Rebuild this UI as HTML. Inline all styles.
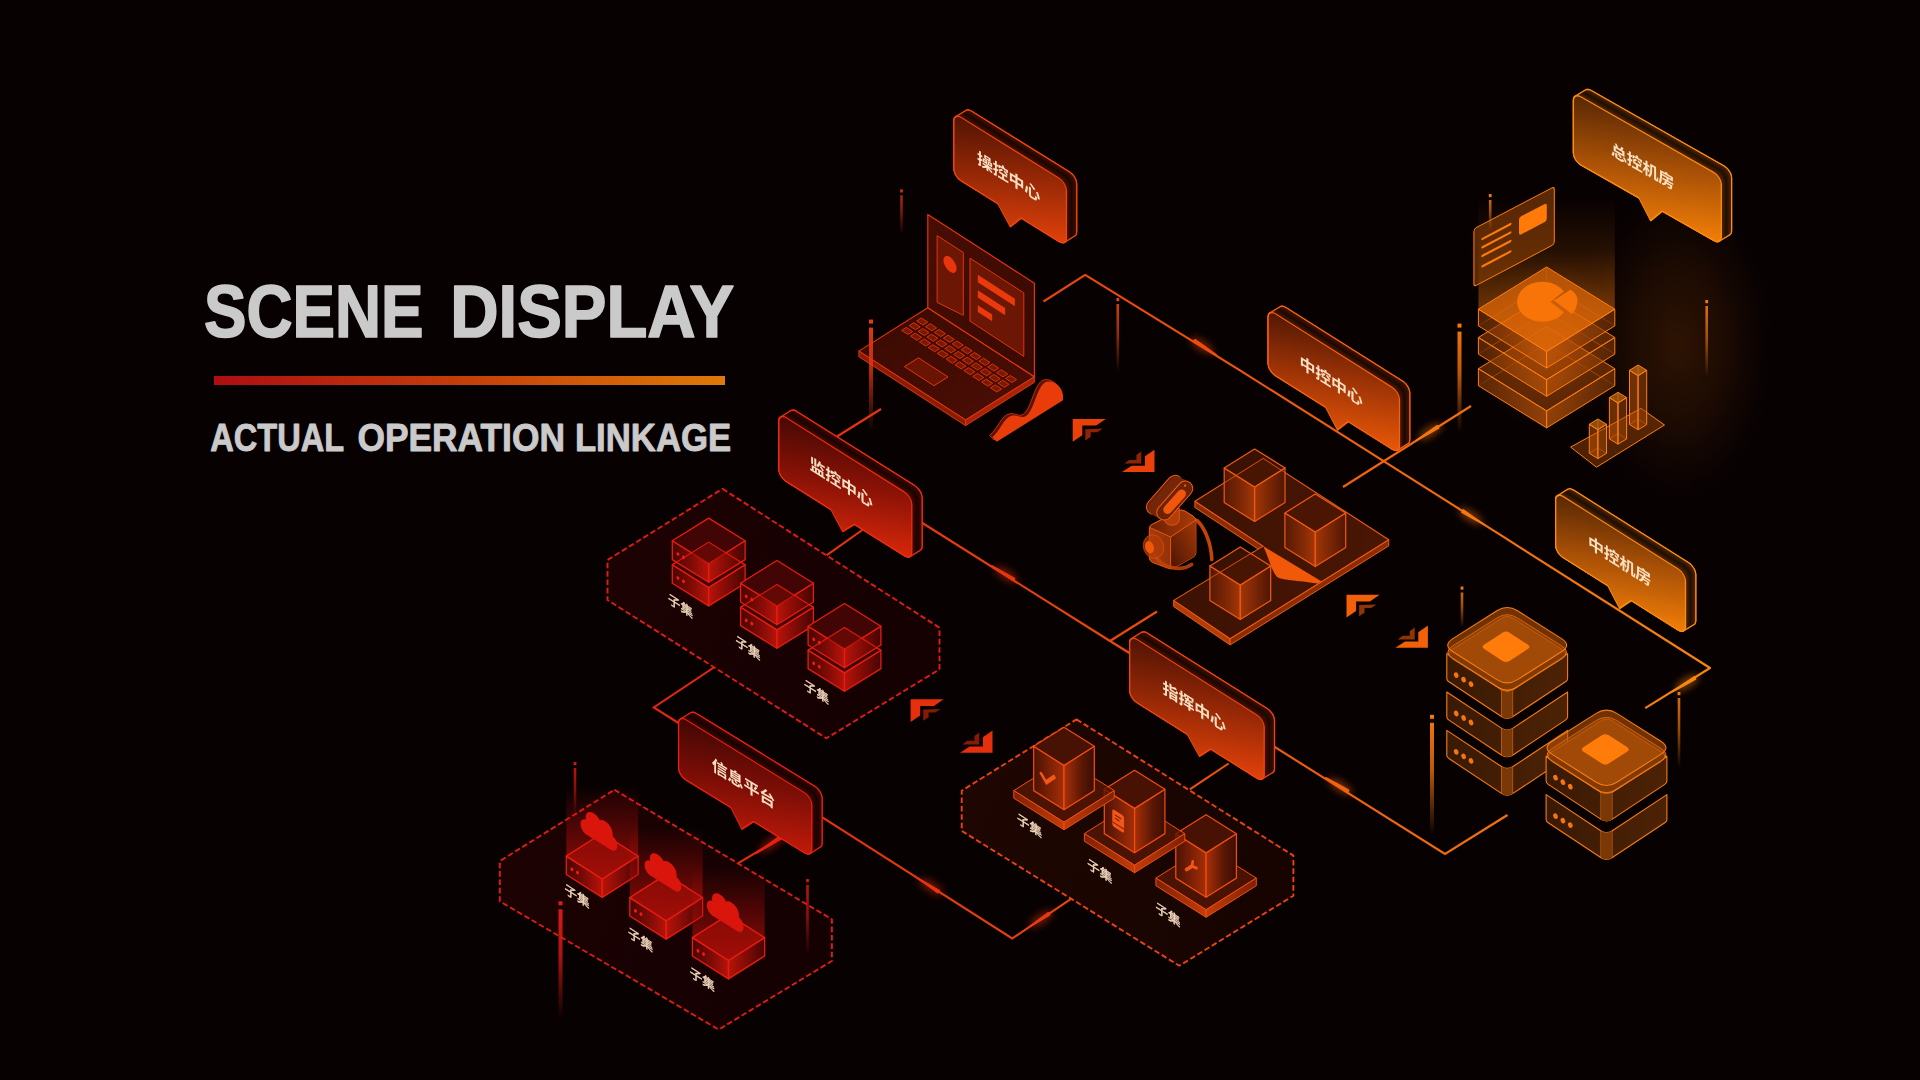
<!DOCTYPE html>
<html lang="zh"><head><meta charset="utf-8"><title>SCENE DISPLAY</title>
<style>html,body{margin:0;padding:0;background:#070102;overflow:hidden}svg{display:block}</style></head>
<body>
<svg width="1920" height="1080" viewBox="0 0 1920 1080">
<defs>
<radialGradient id="g1" cx="0.5" cy="0.5" r="0.5"><stop offset="0" stop-color="#301403" stop-opacity="0.95"/><stop offset="0.45" stop-color="#2a1103" stop-opacity="0.62"/><stop offset="0.75" stop-color="#200c02" stop-opacity="0.25"/><stop offset="1" stop-color="#070102" stop-opacity="0"/></radialGradient>
<linearGradient id="g2" x1="640" y1="0" x2="1720" y2="0" gradientUnits="userSpaceOnUse"><stop offset="0" stop-color="#e02410"/><stop offset="0.35" stop-color="#e8400c"/><stop offset="0.7" stop-color="#f2660c"/><stop offset="1" stop-color="#f8860e"/></linearGradient>
<linearGradient id="g3" x1="0" y1="0" x2="1" y2="0.3"><stop offset="0" stop-color="#1d0203"/><stop offset="1" stop-color="#150102"/></linearGradient>
<linearGradient id="g4" x1="0" y1="0" x2="1" y2="0"><stop offset="0" stop-color="#4a0604"/><stop offset="0.55" stop-color="#8a0c07"/><stop offset="1" stop-color="#c4150b"/></linearGradient>
<linearGradient id="g5" x1="0" y1="0" x2="1" y2="0"><stop offset="0" stop-color="#c4150b"/><stop offset="0.5" stop-color="#8a0c07"/><stop offset="1" stop-color="#4a0604"/></linearGradient>
<linearGradient id="g6" x1="0" y1="0" x2="1" y2="0"><stop offset="0" stop-color="#4a0604"/><stop offset="0.55" stop-color="#8a0c07"/><stop offset="1" stop-color="#c4150b"/></linearGradient>
<linearGradient id="g7" x1="0" y1="0" x2="1" y2="0"><stop offset="0" stop-color="#c4150b"/><stop offset="0.5" stop-color="#8a0c07"/><stop offset="1" stop-color="#4a0604"/></linearGradient>
<linearGradient id="g8" x1="0" y1="0" x2="1" y2="0"><stop offset="0" stop-color="#4a0604"/><stop offset="0.55" stop-color="#8a0c07"/><stop offset="1" stop-color="#c4150b"/></linearGradient>
<linearGradient id="g9" x1="0" y1="0" x2="1" y2="0"><stop offset="0" stop-color="#c4150b"/><stop offset="0.5" stop-color="#8a0c07"/><stop offset="1" stop-color="#4a0604"/></linearGradient>
<linearGradient id="g10" x1="0" y1="0" x2="1" y2="0"><stop offset="0" stop-color="#4a0604"/><stop offset="0.55" stop-color="#8a0c07"/><stop offset="1" stop-color="#c4150b"/></linearGradient>
<linearGradient id="g11" x1="0" y1="0" x2="1" y2="0"><stop offset="0" stop-color="#c4150b"/><stop offset="0.5" stop-color="#8a0c07"/><stop offset="1" stop-color="#4a0604"/></linearGradient>
<linearGradient id="g12" x1="0" y1="0" x2="1" y2="0"><stop offset="0" stop-color="#4a0604"/><stop offset="0.55" stop-color="#8a0c07"/><stop offset="1" stop-color="#c4150b"/></linearGradient>
<linearGradient id="g13" x1="0" y1="0" x2="1" y2="0"><stop offset="0" stop-color="#c4150b"/><stop offset="0.5" stop-color="#8a0c07"/><stop offset="1" stop-color="#4a0604"/></linearGradient>
<linearGradient id="g14" x1="0" y1="0" x2="1" y2="0"><stop offset="0" stop-color="#4a0604"/><stop offset="0.55" stop-color="#8a0c07"/><stop offset="1" stop-color="#c4150b"/></linearGradient>
<linearGradient id="g15" x1="0" y1="0" x2="1" y2="0"><stop offset="0" stop-color="#c4150b"/><stop offset="0.5" stop-color="#8a0c07"/><stop offset="1" stop-color="#4a0604"/></linearGradient>
<linearGradient id="g16" x1="0" y1="0" x2="1" y2="0.3"><stop offset="0" stop-color="#1d0203"/><stop offset="1" stop-color="#150102"/></linearGradient>
<linearGradient id="g17" x1="0" y1="0" x2="0" y2="1"><stop offset="0" stop-color="#b80e09" stop-opacity="0"/><stop offset="0.4" stop-color="#b80e09" stop-opacity="0.3"/><stop offset="1" stop-color="#c8120a" stop-opacity="0.72"/></linearGradient>
<linearGradient id="g18" x1="0" y1="0" x2="1" y2="0"><stop offset="0" stop-color="#4a0604"/><stop offset="0.55" stop-color="#8a0c07"/><stop offset="1" stop-color="#c4150b"/></linearGradient>
<linearGradient id="g19" x1="0" y1="0" x2="1" y2="0"><stop offset="0" stop-color="#c4150b"/><stop offset="0.5" stop-color="#8a0c07"/><stop offset="1" stop-color="#4a0604"/></linearGradient>
<linearGradient id="g20" x1="0" y1="0" x2="0" y2="1"><stop offset="0" stop-color="#b80e09" stop-opacity="0"/><stop offset="0.4" stop-color="#b80e09" stop-opacity="0.3"/><stop offset="1" stop-color="#c8120a" stop-opacity="0.72"/></linearGradient>
<linearGradient id="g21" x1="0" y1="0" x2="1" y2="0"><stop offset="0" stop-color="#4a0604"/><stop offset="0.55" stop-color="#8a0c07"/><stop offset="1" stop-color="#c4150b"/></linearGradient>
<linearGradient id="g22" x1="0" y1="0" x2="1" y2="0"><stop offset="0" stop-color="#c4150b"/><stop offset="0.5" stop-color="#8a0c07"/><stop offset="1" stop-color="#4a0604"/></linearGradient>
<linearGradient id="g23" x1="0" y1="0" x2="0" y2="1"><stop offset="0" stop-color="#b80e09" stop-opacity="0"/><stop offset="0.4" stop-color="#b80e09" stop-opacity="0.3"/><stop offset="1" stop-color="#c8120a" stop-opacity="0.72"/></linearGradient>
<linearGradient id="g24" x1="0" y1="0" x2="1" y2="0"><stop offset="0" stop-color="#4a0604"/><stop offset="0.55" stop-color="#8a0c07"/><stop offset="1" stop-color="#c4150b"/></linearGradient>
<linearGradient id="g25" x1="0" y1="0" x2="1" y2="0"><stop offset="0" stop-color="#c4150b"/><stop offset="0.5" stop-color="#8a0c07"/><stop offset="1" stop-color="#4a0604"/></linearGradient>
<linearGradient id="g26" x1="0" y1="0" x2="1" y2="0.3"><stop offset="0" stop-color="#1f0702"/><stop offset="1" stop-color="#170401"/></linearGradient>
<linearGradient id="g27" x1="0" y1="0" x2="1" y2="0"><stop offset="0" stop-color="#7c2006"/><stop offset="1" stop-color="#c43c0a"/></linearGradient>
<linearGradient id="g28" x1="0" y1="0" x2="1" y2="0"><stop offset="0" stop-color="#c43c0a"/><stop offset="1" stop-color="#7c2006"/></linearGradient>
<linearGradient id="g29" x1="0" y1="0" x2="1" y2="0"><stop offset="0" stop-color="#4c1204"/><stop offset="1" stop-color="#a62e08"/></linearGradient>
<linearGradient id="g30" x1="0" y1="0" x2="1" y2="0"><stop offset="0" stop-color="#a83008"/><stop offset="0.6" stop-color="#5a1604"/><stop offset="1" stop-color="#3c0e03"/></linearGradient>
<linearGradient id="g31" x1="0" y1="0" x2="1" y2="0"><stop offset="0" stop-color="#7c2006"/><stop offset="1" stop-color="#c43c0a"/></linearGradient>
<linearGradient id="g32" x1="0" y1="0" x2="1" y2="0"><stop offset="0" stop-color="#c43c0a"/><stop offset="1" stop-color="#7c2006"/></linearGradient>
<linearGradient id="g33" x1="0" y1="0" x2="1" y2="0"><stop offset="0" stop-color="#4c1204"/><stop offset="1" stop-color="#a62e08"/></linearGradient>
<linearGradient id="g34" x1="0" y1="0" x2="1" y2="0"><stop offset="0" stop-color="#a83008"/><stop offset="0.6" stop-color="#5a1604"/><stop offset="1" stop-color="#3c0e03"/></linearGradient>
<linearGradient id="g35" x1="0" y1="0" x2="1" y2="0"><stop offset="0" stop-color="#7c2006"/><stop offset="1" stop-color="#c43c0a"/></linearGradient>
<linearGradient id="g36" x1="0" y1="0" x2="1" y2="0"><stop offset="0" stop-color="#c43c0a"/><stop offset="1" stop-color="#7c2006"/></linearGradient>
<linearGradient id="g37" x1="0" y1="0" x2="1" y2="0"><stop offset="0" stop-color="#4c1204"/><stop offset="1" stop-color="#a62e08"/></linearGradient>
<linearGradient id="g38" x1="0" y1="0" x2="1" y2="0"><stop offset="0" stop-color="#a83008"/><stop offset="0.6" stop-color="#5a1604"/><stop offset="1" stop-color="#3c0e03"/></linearGradient>
<linearGradient id="g39" x1="0" y1="0" x2="1" y2="1"><stop offset="0" stop-color="#3a0a03"/><stop offset="1" stop-color="#4c0e04"/></linearGradient>
<linearGradient id="g40" x1="0" y1="0" x2="1" y2="1"><stop offset="0" stop-color="#4a0e04"/><stop offset="1" stop-color="#3a0a03"/></linearGradient>
<linearGradient id="g41" x1="0" y1="0" x2="1" y2="0"><stop offset="0" stop-color="#3c1203"/><stop offset="1" stop-color="#4a1604"/></linearGradient>
<linearGradient id="g42" x1="0" y1="0" x2="1" y2="0"><stop offset="0" stop-color="#5a1a04"/><stop offset="0.6" stop-color="#8a2c06"/><stop offset="1" stop-color="#b23c08"/></linearGradient>
<linearGradient id="g43" x1="0" y1="0" x2="1" y2="0"><stop offset="0" stop-color="#b03a08"/><stop offset="0.5" stop-color="#802806"/><stop offset="1" stop-color="#521604"/></linearGradient>
<linearGradient id="g44" x1="0" y1="0" x2="1" y2="0"><stop offset="0" stop-color="#5a1a04"/><stop offset="0.6" stop-color="#8a2c06"/><stop offset="1" stop-color="#b23c08"/></linearGradient>
<linearGradient id="g45" x1="0" y1="0" x2="1" y2="0"><stop offset="0" stop-color="#b03a08"/><stop offset="0.5" stop-color="#802806"/><stop offset="1" stop-color="#521604"/></linearGradient>
<linearGradient id="g46" x1="0" y1="0" x2="1" y2="0"><stop offset="0" stop-color="#5a1a04"/><stop offset="0.6" stop-color="#8a2c06"/><stop offset="1" stop-color="#b23c08"/></linearGradient>
<linearGradient id="g47" x1="0" y1="0" x2="1" y2="0"><stop offset="0" stop-color="#b03a08"/><stop offset="0.5" stop-color="#802806"/><stop offset="1" stop-color="#521604"/></linearGradient>
<linearGradient id="g48" x1="0" y1="0" x2="1" y2="0"><stop offset="0" stop-color="#a83a09"/><stop offset="1" stop-color="#7a2806"/></linearGradient>
<linearGradient id="g49" x1="0" y1="1" x2="1" y2="0"><stop offset="0" stop-color="#4c1404"/><stop offset="1" stop-color="#a23808"/></linearGradient>
<linearGradient id="g50" x1="0" y1="0" x2="1" y2="0"><stop offset="0" stop-color="#6a2005"/><stop offset="1" stop-color="#a83a08"/></linearGradient>
<radialGradient id="g51" cx="0.5" cy="0.5" r="0.5"><stop offset="0" stop-color="#ff7a08" stop-opacity="0.38"/><stop offset="0.6" stop-color="#c85008" stop-opacity="0.12"/><stop offset="1" stop-color="#c85008" stop-opacity="0"/></radialGradient>
<linearGradient id="g52" x1="0" y1="0" x2="0" y2="1"><stop offset="0" stop-color="#ff7a08" stop-opacity="0"/><stop offset="0.35" stop-color="#ff7a08" stop-opacity="0.12"/><stop offset="1" stop-color="#ff7e08" stop-opacity="0.62"/></linearGradient>
<linearGradient id="g53" x1="0" y1="0" x2="1" y2="0"><stop offset="0" stop-color="#7a3406"/><stop offset="1" stop-color="#c85a0a"/></linearGradient>
<linearGradient id="g54" x1="0" y1="0" x2="1" y2="0"><stop offset="0" stop-color="#c85a0a"/><stop offset="1" stop-color="#7a3406"/></linearGradient>
<linearGradient id="g55" x1="0" y1="0" x2="1" y2="0"><stop offset="0" stop-color="#7a3406"/><stop offset="1" stop-color="#c85a0a"/></linearGradient>
<linearGradient id="g56" x1="0" y1="0" x2="1" y2="0"><stop offset="0" stop-color="#c85a0a"/><stop offset="1" stop-color="#7a3406"/></linearGradient>
<linearGradient id="g57" x1="0" y1="0" x2="1" y2="0"><stop offset="0" stop-color="#7a3406"/><stop offset="1" stop-color="#c85a0a"/></linearGradient>
<linearGradient id="g58" x1="0" y1="0" x2="1" y2="0"><stop offset="0" stop-color="#c85a0a"/><stop offset="1" stop-color="#7a3406"/></linearGradient>
<linearGradient id="g59" x1="0" y1="0" x2="1" y2="0"><stop offset="0" stop-color="#3a1a04"/><stop offset="1" stop-color="#4c2205"/></linearGradient>
<linearGradient id="g60" x1="0" y1="0" x2="1" y2="0"><stop offset="0" stop-color="#3a1a04"/><stop offset="1" stop-color="#4c2205"/></linearGradient>
<linearGradient id="g61" x1="0" y1="0" x2="1" y2="0"><stop offset="0" stop-color="#3a1a04"/><stop offset="1" stop-color="#4c2205"/></linearGradient>
<linearGradient id="g62" x1="0" y1="0" x2="1" y2="0"><stop offset="0" stop-color="#3a1a04"/><stop offset="1" stop-color="#4c2205"/></linearGradient>
<linearGradient id="g63" x1="0" y1="0" x2="1" y2="0"><stop offset="0" stop-color="#3a1a04"/><stop offset="1" stop-color="#4c2205"/></linearGradient>
<linearGradient id="g64" x1="901.5" y1="189.3" x2="901.5" y2="234" gradientUnits="userSpaceOnUse"><stop offset="0" stop-color="#c42c0c" stop-opacity="0.95"/><stop offset="0.5" stop-color="#c42c0c" stop-opacity="0.62"/><stop offset="1" stop-color="#c42c0c" stop-opacity="0"/></linearGradient>
<linearGradient id="g65" x1="1117.8" y1="298" x2="1117.8" y2="372" gradientUnits="userSpaceOnUse"><stop offset="0" stop-color="#e04810" stop-opacity="0.95"/><stop offset="0.5" stop-color="#e04810" stop-opacity="0.62"/><stop offset="1" stop-color="#e04810" stop-opacity="0"/></linearGradient>
<linearGradient id="g66" x1="1490.2" y1="194" x2="1490.2" y2="230" gradientUnits="userSpaceOnUse"><stop offset="0" stop-color="#f07810" stop-opacity="0.95"/><stop offset="0.5" stop-color="#f07810" stop-opacity="0.62"/><stop offset="1" stop-color="#f07810" stop-opacity="0"/></linearGradient>
<linearGradient id="g67" x1="1706.7" y1="300" x2="1706.7" y2="377" gradientUnits="userSpaceOnUse"><stop offset="0" stop-color="#f07810" stop-opacity="0.95"/><stop offset="0.5" stop-color="#f07810" stop-opacity="0.62"/><stop offset="1" stop-color="#f07810" stop-opacity="0"/></linearGradient>
<linearGradient id="g68" x1="1462" y1="586.5" x2="1462" y2="628" gradientUnits="userSpaceOnUse"><stop offset="0" stop-color="#f07810" stop-opacity="0.95"/><stop offset="0.5" stop-color="#f07810" stop-opacity="0.62"/><stop offset="1" stop-color="#f07810" stop-opacity="0"/></linearGradient>
<linearGradient id="g69" x1="1679" y1="692" x2="1679" y2="768" gradientUnits="userSpaceOnUse"><stop offset="0" stop-color="#f07810" stop-opacity="0.95"/><stop offset="0.5" stop-color="#f07810" stop-opacity="0.62"/><stop offset="1" stop-color="#f07810" stop-opacity="0"/></linearGradient>
<linearGradient id="g70" x1="575" y1="762" x2="575" y2="815" gradientUnits="userSpaceOnUse"><stop offset="0" stop-color="#d01810" stop-opacity="0.95"/><stop offset="0.5" stop-color="#d01810" stop-opacity="0.62"/><stop offset="1" stop-color="#d01810" stop-opacity="0"/></linearGradient>
<linearGradient id="g71" x1="807.5" y1="879" x2="807.5" y2="955" gradientUnits="userSpaceOnUse"><stop offset="0" stop-color="#d01810" stop-opacity="0.95"/><stop offset="0.5" stop-color="#d01810" stop-opacity="0.62"/><stop offset="1" stop-color="#d01810" stop-opacity="0"/></linearGradient>
<linearGradient id="g72" x1="871" y1="319.6" x2="871" y2="432" gradientUnits="userSpaceOnUse"><stop offset="0" stop-color="#e83810"/><stop offset="0.45" stop-color="#e83810" stop-opacity="0.75"/><stop offset="1" stop-color="#e83810" stop-opacity="0"/></linearGradient>
<linearGradient id="g73" x1="1459.5" y1="323.6" x2="1459.5" y2="432" gradientUnits="userSpaceOnUse"><stop offset="0" stop-color="#f8780c"/><stop offset="0.45" stop-color="#f8780c" stop-opacity="0.75"/><stop offset="1" stop-color="#f8780c" stop-opacity="0"/></linearGradient>
<linearGradient id="g74" x1="1432" y1="714.8" x2="1432" y2="835" gradientUnits="userSpaceOnUse"><stop offset="0" stop-color="#f8780c"/><stop offset="0.45" stop-color="#f8780c" stop-opacity="0.75"/><stop offset="1" stop-color="#f8780c" stop-opacity="0"/></linearGradient>
<linearGradient id="g75" x1="560.5" y1="901.3" x2="560.5" y2="1020" gradientUnits="userSpaceOnUse"><stop offset="0" stop-color="#e01c14"/><stop offset="0.45" stop-color="#e01c14" stop-opacity="0.75"/><stop offset="1" stop-color="#e01c14" stop-opacity="0"/></linearGradient>
<linearGradient id="g76" x1="0.05" y1="0.0" x2="0.85" y2="1.0"><stop offset="0" stop-color="#521404"/><stop offset="0.45" stop-color="#962806"/><stop offset="1" stop-color="#ea440a"/></linearGradient>
<linearGradient id="g77" x1="0.05" y1="0.0" x2="0.85" y2="1.0"><stop offset="0" stop-color="#5a2804"/><stop offset="0.45" stop-color="#a85006"/><stop offset="1" stop-color="#fb8408"/></linearGradient>
<linearGradient id="g78" x1="0.05" y1="0.0" x2="0.85" y2="1.0"><stop offset="0" stop-color="#541804"/><stop offset="0.45" stop-color="#a03406"/><stop offset="1" stop-color="#f25c08"/></linearGradient>
<linearGradient id="g79" x1="0.05" y1="0.0" x2="0.85" y2="1.0"><stop offset="0" stop-color="#470904"/><stop offset="0.45" stop-color="#8a1206"/><stop offset="1" stop-color="#e02a0a"/></linearGradient>
<linearGradient id="g80" x1="0.05" y1="0.0" x2="0.85" y2="1.0"><stop offset="0" stop-color="#5a2804"/><stop offset="0.45" stop-color="#a85006"/><stop offset="1" stop-color="#fb8408"/></linearGradient>
<linearGradient id="g81" x1="0.05" y1="0.0" x2="0.85" y2="1.0"><stop offset="0" stop-color="#521404"/><stop offset="0.45" stop-color="#962806"/><stop offset="1" stop-color="#ea440a"/></linearGradient>
<linearGradient id="g82" x1="0.05" y1="0.0" x2="0.85" y2="1.0"><stop offset="0" stop-color="#430704"/><stop offset="0.45" stop-color="#7c0e06"/><stop offset="1" stop-color="#c81c0a"/></linearGradient>
<linearGradient id="g83" x1="0" y1="0" x2="1" y2="0"><stop offset="0" stop-color="#ae0e12"/><stop offset="0.5" stop-color="#c4400a"/><stop offset="1" stop-color="#de7a08"/></linearGradient>
<filter id="blur1" x="-50%" y="-200%" width="200%" height="500%"><feGaussianBlur stdDeviation="1.2"/></filter>
<filter id="blur3" x="-50%" y="-300%" width="200%" height="700%"><feGaussianBlur stdDeviation="3.5"/></filter>
<filter id="blur22" x="-60%" y="-40%" width="220%" height="180%"><feGaussianBlur stdDeviation="22"/></filter>
<filter id="blur8" x="-50%" y="-50%" width="200%" height="200%"><feGaussianBlur stdDeviation="8"/></filter>
</defs>
<rect width="1920" height="1080" fill="#070102"/>
<ellipse cx="1678" cy="345" rx="104" ry="172" fill="url(#g1)"/>
<polyline points="1043.5,301.5 1085.2,274.8 1240,370.4 1500,534.7 1710,668 1645.2,708.1" fill="none" stroke="url(#g2)" stroke-width="2.1" stroke-linejoin="round"/>
<polyline points="920,521.5 1110,641 1131,654" fill="none" stroke="url(#g2)" stroke-width="2.1" />
<polyline points="1110,641 1157,611.5" fill="none" stroke="url(#g2)" stroke-width="2.1" />
<polyline points="1270,744 1445,854 1507.5,815" fill="none" stroke="url(#g2)" stroke-width="2.1" />
<polyline points="881,409 837,436.5" fill="none" stroke="url(#g2)" stroke-width="2.1" />
<polyline points="862.3,530 826.5,555.3" fill="none" stroke="url(#g2)" stroke-width="2.1" />
<polyline points="713.8,667.5 653.8,707.5 680,724" fill="none" stroke="url(#g2)" stroke-width="2.1" />
<polyline points="820,815.8 1012.2,938.5 1071.8,898.3" fill="none" stroke="url(#g2)" stroke-width="2.1" />
<polyline points="780.3,837.8 737.5,863.7" fill="none" stroke="url(#g2)" stroke-width="2.1" />
<polyline points="1228.6,763.5 1189.8,789.4" fill="none" stroke="url(#g2)" stroke-width="2.1" />
<polyline points="1343,487 1471,406" fill="none" stroke="url(#g2)" stroke-width="2.1" />
<g transform="translate(1194,340.6) rotate(32.2)"><ellipse cx="9.7" cy="0" rx="14" ry="5.2" fill="#f04c0c" opacity="0.42" filter="url(#blur3)"/><path d="M0,-2.1 Q-1.6,0 0,2.1 L12.2,1.5 L27,0.6 L27,-0.6 L12.2,-1.5 Z" fill="#f04c0c"/></g>
<g transform="translate(1462.3,510.9) rotate(32.2)"><ellipse cx="9.7" cy="0" rx="14" ry="5.2" fill="#f6780e" opacity="0.42" filter="url(#blur3)"/><path d="M0,-2.1 Q-1.6,0 0,2.1 L12.2,1.5 L27,0.6 L27,-0.6 L12.2,-1.5 Z" fill="#f6780e"/></g>
<g transform="translate(1438.3,426.6) rotate(147.7)"><ellipse cx="9.7" cy="0" rx="14" ry="5.2" fill="#f6760e" opacity="0.42" filter="url(#blur3)"/><path d="M0,-2.1 Q-1.6,0 0,2.1 L12.2,1.5 L27,0.6 L27,-0.6 L12.2,-1.5 Z" fill="#f6760e"/></g>
<g transform="translate(1695.2,677.8) rotate(148.2)"><ellipse cx="9.7" cy="0" rx="14" ry="5.2" fill="#fb860e" opacity="0.42" filter="url(#blur3)"/><path d="M0,-2.1 Q-1.6,0 0,2.1 L12.2,1.5 L27,0.6 L27,-0.6 L12.2,-1.5 Z" fill="#fb860e"/></g>
<g transform="translate(939,891.9) rotate(-147.5)"><ellipse cx="9.7" cy="0" rx="14" ry="5.2" fill="#e8340f" opacity="0.42" filter="url(#blur3)"/><path d="M0,-2.1 Q-1.6,0 0,2.1 L12.2,1.5 L27,0.6 L27,-0.6 L12.2,-1.5 Z" fill="#e8340f"/></g>
<g transform="translate(1049.4,913.6) rotate(146.6)"><ellipse cx="9.7" cy="0" rx="14" ry="5.2" fill="#ea3a0f" opacity="0.42" filter="url(#blur3)"/><path d="M0,-2.1 Q-1.6,0 0,2.1 L12.2,1.5 L27,0.6 L27,-0.6 L12.2,-1.5 Z" fill="#ea3a0f"/></g>
<g transform="translate(781,837.2) rotate(146.8)"><ellipse cx="10.8" cy="0" rx="15.6" ry="5.2" fill="#e6220f" opacity="0.42" filter="url(#blur3)"/><path d="M0,-2.2 Q-1.6,0 0,2.2 L13.5,1.6 L30,0.6 L30,-0.6 L13.5,-1.6 Z" fill="#e6220f"/></g>
<g transform="translate(1014.2,579.8) rotate(-147.7)"><ellipse cx="9.7" cy="0" rx="14" ry="5.2" fill="#e8340f" opacity="0.42" filter="url(#blur3)"/><path d="M0,-2.1 Q-1.6,0 0,2.1 L12.2,1.5 L27,0.6 L27,-0.6 L12.2,-1.5 Z" fill="#e8340f"/></g>
<g transform="translate(1348.3,791.6) rotate(-147.7)"><ellipse cx="9.7" cy="0" rx="14" ry="5.2" fill="#f2640c" opacity="0.42" filter="url(#blur3)"/><path d="M0,-2.1 Q-1.6,0 0,2.1 L12.2,1.5 L27,0.6 L27,-0.6 L12.2,-1.5 Z" fill="#f2640c"/></g>
<polygon points="722.5,488.8 939.5,627.7 939.5,669.3 826.4,738.3 607.5,600 607.5,560" fill="url(#g3)" stroke="#e01c14" stroke-width="1.9" stroke-dasharray="5.6 2.8" stroke-linejoin="round"/>
<polygon points="672.3,564.8 708.7,587.5 708.7,605.9 672.3,583.2" fill="url(#g4)" stroke="#e81c10" stroke-width="1.3" fill-opacity="0.92" stroke-linejoin="round"/>
<polygon points="708.7,587.5 745.1,564.8 745.1,583.2 708.7,605.9" fill="url(#g5)" stroke="#e81c10" stroke-width="1.3" fill-opacity="0.92" stroke-linejoin="round"/>
<polygon points="708.7,542.1 745.1,564.8 708.7,587.5 672.3,564.8" fill="#5a0806" stroke="#e81c10" stroke-width="1.3" fill-opacity="0.62" stroke-linejoin="round"/>
<ellipse cx="677.9" cy="578" rx="1.4" ry="1.9" fill="#f01c10" transform="rotate(-25 677.9 578)"/>
<ellipse cx="683.5" cy="581.3" rx="1.4" ry="1.9" fill="#f01c10" transform="rotate(-25 683.5 581.3)"/>
<polygon points="672.3,540.8 708.7,563.5 708.7,582.3 672.3,559.6" fill="url(#g6)" stroke="#e81c10" stroke-width="1.3" fill-opacity="0.9" stroke-linejoin="round"/>
<polygon points="708.7,563.5 745.1,540.8 745.1,559.6 708.7,582.3" fill="url(#g7)" stroke="#e81c10" stroke-width="1.3" fill-opacity="0.9" stroke-linejoin="round"/>
<polygon points="708.7,518.1 745.1,540.8 708.7,563.5 672.3,540.8" fill="#470605" stroke="#e81c10" stroke-width="1.3" fill-opacity="0.9" stroke-linejoin="round"/>
<polygon points="708.7,542.1 726.9,553.5 708.7,563.5 690.5,553.5" fill="#7a0c08" stroke="none" stroke-width="1" fill-opacity="0.55"/>
<polyline points="672.3,564.8 708.7,542.1 745.1,564.8" fill="none" stroke="#e81c10" stroke-width="1.2" stroke-opacity="0.85"/>
<ellipse cx="677.9" cy="554" rx="1.4" ry="1.9" fill="#f01c10" transform="rotate(-25 677.9 554)"/>
<ellipse cx="683.5" cy="557.3" rx="1.4" ry="1.9" fill="#f01c10" transform="rotate(-25 683.5 557.3)"/>
<polygon points="740.6,607.2 777,629.9 777,648.3 740.6,625.6" fill="url(#g8)" stroke="#e81c10" stroke-width="1.3" fill-opacity="0.92" stroke-linejoin="round"/>
<polygon points="777,629.9 813.4,607.2 813.4,625.6 777,648.3" fill="url(#g9)" stroke="#e81c10" stroke-width="1.3" fill-opacity="0.92" stroke-linejoin="round"/>
<polygon points="777,584.5 813.4,607.2 777,629.9 740.6,607.2" fill="#5a0806" stroke="#e81c10" stroke-width="1.3" fill-opacity="0.62" stroke-linejoin="round"/>
<ellipse cx="746.2" cy="620.4" rx="1.4" ry="1.9" fill="#f01c10" transform="rotate(-25 746.2 620.4)"/>
<ellipse cx="751.8" cy="623.7" rx="1.4" ry="1.9" fill="#f01c10" transform="rotate(-25 751.8 623.7)"/>
<polygon points="740.6,583.2 777,605.9 777,624.7 740.6,602" fill="url(#g10)" stroke="#e81c10" stroke-width="1.3" fill-opacity="0.9" stroke-linejoin="round"/>
<polygon points="777,605.9 813.4,583.2 813.4,602 777,624.7" fill="url(#g11)" stroke="#e81c10" stroke-width="1.3" fill-opacity="0.9" stroke-linejoin="round"/>
<polygon points="777,560.5 813.4,583.2 777,605.9 740.6,583.2" fill="#470605" stroke="#e81c10" stroke-width="1.3" fill-opacity="0.9" stroke-linejoin="round"/>
<polygon points="777,584.5 795.2,595.9 777,605.9 758.8,595.9" fill="#7a0c08" stroke="none" stroke-width="1" fill-opacity="0.55"/>
<polyline points="740.6,607.2 777,584.5 813.4,607.2" fill="none" stroke="#e81c10" stroke-width="1.2" stroke-opacity="0.85"/>
<ellipse cx="746.2" cy="596.4" rx="1.4" ry="1.9" fill="#f01c10" transform="rotate(-25 746.2 596.4)"/>
<ellipse cx="751.8" cy="599.7" rx="1.4" ry="1.9" fill="#f01c10" transform="rotate(-25 751.8 599.7)"/>
<polygon points="808.1,650.2 844.5,672.9 844.5,691.3 808.1,668.6" fill="url(#g12)" stroke="#e81c10" stroke-width="1.3" fill-opacity="0.92" stroke-linejoin="round"/>
<polygon points="844.5,672.9 880.9,650.2 880.9,668.6 844.5,691.3" fill="url(#g13)" stroke="#e81c10" stroke-width="1.3" fill-opacity="0.92" stroke-linejoin="round"/>
<polygon points="844.5,627.5 880.9,650.2 844.5,672.9 808.1,650.2" fill="#5a0806" stroke="#e81c10" stroke-width="1.3" fill-opacity="0.62" stroke-linejoin="round"/>
<ellipse cx="813.7" cy="663.4" rx="1.4" ry="1.9" fill="#f01c10" transform="rotate(-25 813.7 663.4)"/>
<ellipse cx="819.3" cy="666.7" rx="1.4" ry="1.9" fill="#f01c10" transform="rotate(-25 819.3 666.7)"/>
<polygon points="808.1,626.2 844.5,648.9 844.5,667.7 808.1,645" fill="url(#g14)" stroke="#e81c10" stroke-width="1.3" fill-opacity="0.9" stroke-linejoin="round"/>
<polygon points="844.5,648.9 880.9,626.2 880.9,645 844.5,667.7" fill="url(#g15)" stroke="#e81c10" stroke-width="1.3" fill-opacity="0.9" stroke-linejoin="round"/>
<polygon points="844.5,603.5 880.9,626.2 844.5,648.9 808.1,626.2" fill="#470605" stroke="#e81c10" stroke-width="1.3" fill-opacity="0.9" stroke-linejoin="round"/>
<polygon points="844.5,627.5 862.7,638.9 844.5,648.9 826.3,638.9" fill="#7a0c08" stroke="none" stroke-width="1" fill-opacity="0.55"/>
<polyline points="808.1,650.2 844.5,627.5 880.9,650.2" fill="none" stroke="#e81c10" stroke-width="1.2" stroke-opacity="0.85"/>
<ellipse cx="813.7" cy="639.4" rx="1.4" ry="1.9" fill="#f01c10" transform="rotate(-25 813.7 639.4)"/>
<ellipse cx="819.3" cy="642.7" rx="1.4" ry="1.9" fill="#f01c10" transform="rotate(-25 819.3 642.7)"/>
<text transform="matrix(1,0.63,0,1,680.6,606)" text-anchor="middle" y="4.4" font-size="12.5" font-family="'Liberation Sans', 'Noto Sans CJK SC', sans-serif" fill="#f6dcc0" stroke="#f6dcc0" stroke-width="0.35" opacity="0.99">子集</text>
<text transform="matrix(1,0.63,0,1,748,648)" text-anchor="middle" y="4.4" font-size="12.5" font-family="'Liberation Sans', 'Noto Sans CJK SC', sans-serif" fill="#f6dcc0" stroke="#f6dcc0" stroke-width="0.35" opacity="0.99">子集</text>
<text transform="matrix(1,0.63,0,1,816.5,692)" text-anchor="middle" y="4.4" font-size="12.5" font-family="'Liberation Sans', 'Noto Sans CJK SC', sans-serif" fill="#f6dcc0" stroke="#f6dcc0" stroke-width="0.35" opacity="0.99">子集</text>
<polygon points="614.4,789.8 831.9,919.3 831.9,961 718.7,1029.6 499.8,901.3 499.8,861.1" fill="url(#g16)" stroke="#e01c14" stroke-width="1.9" stroke-dasharray="5.6 2.8" stroke-linejoin="round"/>
<polygon points="566.3,786.1 638.1,786.1 638.1,856.1 602.2,879 566.3,856.1" fill="url(#g17)" stroke="none" stroke-width="1" />
<polygon points="566.3,856.1 602.2,879 602.2,897.4 566.3,874.5" fill="url(#g18)" stroke="#e81c10" stroke-width="1.3" fill-opacity="0.92" stroke-linejoin="round"/>
<polygon points="602.2,879 638.1,856.1 638.1,874.5 602.2,897.4" fill="url(#g19)" stroke="#e81c10" stroke-width="1.3" fill-opacity="0.92" stroke-linejoin="round"/>
<polygon points="602.2,833.3 638.1,856.1 602.2,879 566.3,856.1" fill="#a80e08" stroke="#e81c10" stroke-width="1.3" fill-opacity="0.62" stroke-linejoin="round"/>
<ellipse cx="571.9" cy="869.3" rx="1.4" ry="1.9" fill="#f01c10" transform="rotate(-25 571.9 869.3)"/>
<ellipse cx="577.5" cy="872.6" rx="1.4" ry="1.9" fill="#f01c10" transform="rotate(-25 577.5 872.6)"/>
<path d="M-11,10 C-19.5,10 -19.5,-1 -12.5,-2.2 C-14,-10.5 -4,-14.5 1,-8.8 C5,-13 14.5,-10.5 13.2,-2.2 C19.5,-1.6 19.5,10 11,10 Z" transform="matrix(1.04,0.645,0,1.206,598.9,830.3)" fill="#da150c"/>
<polygon points="629.8,827.6 702.6,827.6 702.6,897.6 666.2,920.7 629.8,897.6" fill="url(#g20)" stroke="none" stroke-width="1" />
<polygon points="629.8,897.6 666.2,920.7 666.2,939.1 629.8,916" fill="url(#g21)" stroke="#e81c10" stroke-width="1.3" fill-opacity="0.92" stroke-linejoin="round"/>
<polygon points="666.2,920.7 702.6,897.6 702.6,916 666.2,939.1" fill="url(#g22)" stroke="#e81c10" stroke-width="1.3" fill-opacity="0.92" stroke-linejoin="round"/>
<polygon points="666.2,874.4 702.6,897.6 666.2,920.7 629.8,897.6" fill="#a80e08" stroke="#e81c10" stroke-width="1.3" fill-opacity="0.62" stroke-linejoin="round"/>
<ellipse cx="635.4" cy="910.8" rx="1.4" ry="1.9" fill="#f01c10" transform="rotate(-25 635.4 910.8)"/>
<ellipse cx="641" cy="914.1" rx="1.4" ry="1.9" fill="#f01c10" transform="rotate(-25 641 914.1)"/>
<path d="M-11,10 C-19.5,10 -19.5,-1 -12.5,-2.2 C-14,-10.5 -4,-14.5 1,-8.8 C5,-13 14.5,-10.5 13.2,-2.2 C19.5,-1.6 19.5,10 11,10 Z" transform="matrix(1.04,0.645,0,1.206,662.9,871.4)" fill="#da150c"/>
<polygon points="692.4,867.6 764.6,867.6 764.6,937.6 728.5,960.5 692.4,937.6" fill="url(#g23)" stroke="none" stroke-width="1" />
<polygon points="692.4,937.6 728.5,960.5 728.5,978.9 692.4,956" fill="url(#g24)" stroke="#e81c10" stroke-width="1.3" fill-opacity="0.92" stroke-linejoin="round"/>
<polygon points="728.5,960.5 764.6,937.6 764.6,956 728.5,978.9" fill="url(#g25)" stroke="#e81c10" stroke-width="1.3" fill-opacity="0.92" stroke-linejoin="round"/>
<polygon points="728.5,914.6 764.6,937.6 728.5,960.5 692.4,937.6" fill="#a80e08" stroke="#e81c10" stroke-width="1.3" fill-opacity="0.62" stroke-linejoin="round"/>
<ellipse cx="698" cy="950.8" rx="1.4" ry="1.9" fill="#f01c10" transform="rotate(-25 698 950.8)"/>
<ellipse cx="703.6" cy="954.1" rx="1.4" ry="1.9" fill="#f01c10" transform="rotate(-25 703.6 954.1)"/>
<path d="M-11,10 C-19.5,10 -19.5,-1 -12.5,-2.2 C-14,-10.5 -4,-14.5 1,-8.8 C5,-13 14.5,-10.5 13.2,-2.2 C19.5,-1.6 19.5,10 11,10 Z" transform="matrix(1.04,0.645,0,1.206,725.2,911.6)" fill="#da150c"/>
<text transform="matrix(1,0.63,0,1,577,896.2)" text-anchor="middle" y="4.4" font-size="12.5" font-family="'Liberation Sans', 'Noto Sans CJK SC', sans-serif" fill="#f6dcc0" stroke="#f6dcc0" stroke-width="0.35" opacity="0.99">子集</text>
<text transform="matrix(1,0.63,0,1,640.5,939.8)" text-anchor="middle" y="4.4" font-size="12.5" font-family="'Liberation Sans', 'Noto Sans CJK SC', sans-serif" fill="#f6dcc0" stroke="#f6dcc0" stroke-width="0.35" opacity="0.99">子集</text>
<text transform="matrix(1,0.63,0,1,702.3,979.4)" text-anchor="middle" y="4.4" font-size="12.5" font-family="'Liberation Sans', 'Noto Sans CJK SC', sans-serif" fill="#f6dcc0" stroke="#f6dcc0" stroke-width="0.35" opacity="0.99">子集</text>
<polygon points="1076.5,719.4 1293.4,855.6 1293.4,895.7 1179.3,965.8 961.7,830.9 961.7,790.7" fill="url(#g26)" stroke="#ec4210" stroke-width="1.9" stroke-dasharray="5.6 2.8" stroke-linejoin="round"/>
<polygon points="1206.1,846.5 1256.3,878.1 1206.1,909.7 1155.9,878.1" fill="#561604" stroke="#f04c10" stroke-width="1" fill-opacity="0.8"/>
<polygon points="1155.9,878.1 1206.1,909.7 1206.1,917.3 1155.9,885.7" fill="url(#g27)" stroke="#f04c10" stroke-width="1" />
<polygon points="1206.1,909.7 1256.3,878.1 1256.3,885.7 1206.1,917.3" fill="url(#g28)" stroke="#f04c10" stroke-width="1" />
<polygon points="1175.8,833.8 1206.1,852.9 1206.1,897.2 1175.8,878.1" fill="url(#g29)" stroke="#f04c10" stroke-width="1.25" stroke-linejoin="round"/>
<polygon points="1206.1,852.9 1236.4,833.8 1236.4,878.1 1206.1,897.2" fill="url(#g30)" stroke="#f04c10" stroke-width="1.25" stroke-linejoin="round"/>
<polygon points="1206.1,814.7 1236.4,833.8 1206.1,852.9 1175.8,833.8" fill="#471104" stroke="#f04c10" stroke-width="1.25" stroke-linejoin="round"/>
<g transform="translate(1189.7,865.5)" fill="none" stroke="#f4561a" stroke-linecap="round"><path d="M2.4,0.6 L-3.1,4" stroke-width="3.7"/><path d="M2.3,0 L3.1,-4.2" stroke-width="2.6"/><path d="M2.6,0.8 L6.8,2.6" stroke-width="2.8"/><circle cx="-3.2" cy="4" r="0.45" fill="#8a2c08" stroke="none"/></g>
<polygon points="1134.6,802 1184.8,833.6 1134.6,865.2 1084.4,833.6" fill="#561604" stroke="#f04c10" stroke-width="1" fill-opacity="0.8"/>
<polygon points="1084.4,833.6 1134.6,865.2 1134.6,872.8 1084.4,841.2" fill="url(#g31)" stroke="#f04c10" stroke-width="1" />
<polygon points="1134.6,865.2 1184.8,833.6 1184.8,841.2 1134.6,872.8" fill="url(#g32)" stroke="#f04c10" stroke-width="1" />
<polygon points="1104.3,789.3 1134.6,808.4 1134.6,852.7 1104.3,833.6" fill="url(#g33)" stroke="#f04c10" stroke-width="1.25" stroke-linejoin="round"/>
<polygon points="1134.6,808.4 1164.9,789.3 1164.9,833.6 1134.6,852.7" fill="url(#g34)" stroke="#f04c10" stroke-width="1.25" stroke-linejoin="round"/>
<polygon points="1134.6,770.2 1164.9,789.3 1134.6,808.4 1104.3,789.3" fill="#471104" stroke="#f04c10" stroke-width="1.25" stroke-linejoin="round"/>
<g transform="matrix(1,0.63,0,1,1118.2,821)"><rect x="-5.9" y="-8.6" width="11.8" height="17.2" rx="2.2" fill="#f4561a"/><rect x="-3.4" y="-4.6" width="6.6" height="1.3" fill="#7a2006"/><rect x="-3.4" y="-1.4" width="4.6" height="1.3" fill="#7a2006"/><path d="M-5.9,4.4 H5.9" stroke="#7a2006" stroke-width="1.1"/></g>
<polygon points="1064,759 1114.2,790.6 1064,822.2 1013.8,790.6" fill="#561604" stroke="#f04c10" stroke-width="1" fill-opacity="0.8"/>
<polygon points="1013.8,790.6 1064,822.2 1064,829.8 1013.8,798.2" fill="url(#g35)" stroke="#f04c10" stroke-width="1" />
<polygon points="1064,822.2 1114.2,790.6 1114.2,798.2 1064,829.8" fill="url(#g36)" stroke="#f04c10" stroke-width="1" />
<polygon points="1033.7,746.3 1064,765.4 1064,809.7 1033.7,790.6" fill="url(#g37)" stroke="#f04c10" stroke-width="1.25" stroke-linejoin="round"/>
<polygon points="1064,765.4 1094.3,746.3 1094.3,790.6 1064,809.7" fill="url(#g38)" stroke="#f04c10" stroke-width="1.25" stroke-linejoin="round"/>
<polygon points="1064,727.2 1094.3,746.3 1064,765.4 1033.7,746.3" fill="#471104" stroke="#f04c10" stroke-width="1.25" stroke-linejoin="round"/>
<path d="M-6.4,-0.3 L-1.4,5.3 L6.6,-5.3" transform="matrix(1,0.63,0,1,1047.6,778)" fill="none" stroke="#f4561a" stroke-width="3.3" stroke-linejoin="miter" stroke-linecap="round"/>
<text transform="matrix(1,0.63,0,1,1029.6,825.7)" text-anchor="middle" y="4.4" font-size="12.5" font-family="'Liberation Sans', 'Noto Sans CJK SC', sans-serif" fill="#f6dcc0" stroke="#f6dcc0" stroke-width="0.35" opacity="0.99">子集</text>
<text transform="matrix(1,0.63,0,1,1099.7,871)" text-anchor="middle" y="4.4" font-size="12.5" font-family="'Liberation Sans', 'Noto Sans CJK SC', sans-serif" fill="#f6dcc0" stroke="#f6dcc0" stroke-width="0.35" opacity="0.99">子集</text>
<text transform="matrix(1,0.63,0,1,1168.1,914.8)" text-anchor="middle" y="4.4" font-size="12.5" font-family="'Liberation Sans', 'Noto Sans CJK SC', sans-serif" fill="#f6dcc0" stroke="#f6dcc0" stroke-width="0.35" opacity="0.99">子集</text>
<polygon points="927.8,307.8 1034.4,376.7 965.6,420 858.9,351.1" fill="url(#g39)" stroke="#e2340c" stroke-width="1.1" stroke-linejoin="round"/>
<polygon points="858.9,351.1 965.6,420 965.6,425.6 858.9,356.7" fill="#8a1c06" stroke="#e2340c" stroke-width="1" stroke-linejoin="round"/>
<polygon points="965.6,420 1034.4,376.7 1034.4,382.3 965.6,425.6" fill="#a82408" stroke="#e2340c" stroke-width="1" stroke-linejoin="round"/>
<polygon points="921.3,318 927.7,322.1 923,325.1 916.6,321" fill="#7a1806" stroke="#e2340c" stroke-width="0.9" />
<polygon points="930.2,323.7 936.6,327.9 931.9,330.8 925.5,326.7" fill="#7a1806" stroke="#e2340c" stroke-width="0.9" />
<polygon points="939.1,329.5 945.5,333.6 940.8,336.6 934.4,332.4" fill="#7a1806" stroke="#e2340c" stroke-width="0.9" />
<polygon points="948,335.2 954.4,339.4 949.7,342.3 943.3,338.2" fill="#7a1806" stroke="#e2340c" stroke-width="0.9" />
<polygon points="956.9,341 963.3,345.1 958.6,348.1 952.2,343.9" fill="#7a1806" stroke="#e2340c" stroke-width="0.9" />
<polygon points="965.8,346.7 972.2,350.9 967.5,353.8 961.1,349.7" fill="#7a1806" stroke="#e2340c" stroke-width="0.9" />
<polygon points="974.6,352.5 981,356.6 976.3,359.6 969.9,355.4" fill="#7a1806" stroke="#e2340c" stroke-width="0.9" />
<polygon points="983.5,358.2 989.9,362.4 985.2,365.3 978.8,361.2" fill="#7a1806" stroke="#e2340c" stroke-width="0.9" />
<polygon points="992.4,364 998.8,368.1 994.1,371.1 987.7,366.9" fill="#7a1806" stroke="#e2340c" stroke-width="0.9" />
<polygon points="1001.3,369.7 1007.7,373.9 1003,376.8 996.6,372.7" fill="#7a1806" stroke="#e2340c" stroke-width="0.9" />
<polygon points="1010.2,375.5 1016.6,379.6 1011.9,382.6 1005.5,378.4" fill="#7a1806" stroke="#e2340c" stroke-width="0.9" />
<polygon points="913.8,322.7 920.2,326.9 915.5,329.8 909.1,325.7" fill="#7a1806" stroke="#e2340c" stroke-width="0.9" />
<polygon points="922.7,328.5 929.1,332.6 924.4,335.6 918,331.4" fill="#7a1806" stroke="#e2340c" stroke-width="0.9" />
<polygon points="931.6,334.2 938,338.3 933.3,341.3 926.9,337.2" fill="#7a1806" stroke="#e2340c" stroke-width="0.9" />
<polygon points="940.5,340 946.9,344.1 942.2,347 935.8,342.9" fill="#7a1806" stroke="#e2340c" stroke-width="0.9" />
<polygon points="949.4,345.7 955.8,349.8 951.1,352.8 944.7,348.7" fill="#7a1806" stroke="#e2340c" stroke-width="0.9" />
<polygon points="958.3,351.4 964.7,355.6 960,358.5 953.6,354.4" fill="#7a1806" stroke="#e2340c" stroke-width="0.9" />
<polygon points="967.1,357.2 973.5,361.3 968.8,364.3 962.4,360.1" fill="#7a1806" stroke="#e2340c" stroke-width="0.9" />
<polygon points="976,362.9 982.4,367.1 977.7,370 971.3,365.9" fill="#7a1806" stroke="#e2340c" stroke-width="0.9" />
<polygon points="984.9,368.7 991.3,372.8 986.6,375.8 980.2,371.6" fill="#7a1806" stroke="#e2340c" stroke-width="0.9" />
<polygon points="993.8,374.4 1000.2,378.6 995.5,381.5 989.1,377.4" fill="#7a1806" stroke="#e2340c" stroke-width="0.9" />
<polygon points="1002.7,380.2 1009.1,384.3 1004.4,387.3 998,383.1" fill="#7a1806" stroke="#e2340c" stroke-width="0.9" />
<polygon points="906.3,327.4 912.7,331.6 908,334.5 901.6,330.4" fill="#7a1806" stroke="#e2340c" stroke-width="0.9" />
<polygon points="915.2,333.2 921.6,337.3 916.9,340.3 910.5,336.1" fill="#7a1806" stroke="#e2340c" stroke-width="0.9" />
<polygon points="924.1,338.9 930.5,343.1 925.8,346 919.4,341.9" fill="#7a1806" stroke="#e2340c" stroke-width="0.9" />
<polygon points="933,344.7 939.4,348.8 934.7,351.8 928.3,347.6" fill="#7a1806" stroke="#e2340c" stroke-width="0.9" />
<polygon points="941.9,350.4 948.3,354.6 943.6,357.5 937.2,353.4" fill="#7a1806" stroke="#e2340c" stroke-width="0.9" />
<polygon points="950.8,356.2 957.2,360.3 952.5,363.3 946.1,359.1" fill="#7a1806" stroke="#e2340c" stroke-width="0.9" />
<polygon points="959.6,361.9 966,366 961.3,369 954.9,364.9" fill="#7a1806" stroke="#e2340c" stroke-width="0.9" />
<polygon points="968.5,367.7 974.9,371.8 970.2,374.7 963.8,370.6" fill="#7a1806" stroke="#e2340c" stroke-width="0.9" />
<polygon points="977.4,373.4 983.8,377.5 979.1,380.5 972.7,376.4" fill="#7a1806" stroke="#e2340c" stroke-width="0.9" />
<polygon points="986.3,379.1 992.7,383.3 988,386.2 981.6,382.1" fill="#7a1806" stroke="#e2340c" stroke-width="0.9" />
<polygon points="995.2,384.9 1001.6,389 996.9,392 990.5,387.8" fill="#7a1806" stroke="#e2340c" stroke-width="0.9" />
<polygon points="918.4,357.8 948,376.9 934,385.7 904.4,366.6" fill="#6a1405" stroke="#e2340c" stroke-width="1" />
<polygon points="927.8,214.4 1034.4,283.3 1034.4,376.7 927.8,307.8" fill="url(#g40)" stroke="#e2340c" stroke-width="1.2" stroke-linejoin="round" fill-opacity="0.96"/>
<polygon points="937.1,235.6 963.3,252.5 963.3,315.3 937.1,302.4" fill="#6c1605" stroke="#e2340c" stroke-width="1" />
<ellipse cx="0" cy="0" rx="6.6" ry="7.4" transform="matrix(1,0.646,0,1,950,264.4)" fill="#e8360c"/>
<polygon points="970,258.2 1023.8,292.9 1023.8,356.4 970,321.1" fill="#6c1605" stroke="#e2340c" stroke-width="1" />
<polygon points="977.8,274.7 1014.9,298.7 1014.9,306.3 977.8,282.3" fill="#ea3a0c" stroke="none" stroke-width="1" />
<polygon points="977.8,290.3 1005.1,308 1005.1,315.2 977.8,297.5" fill="#ea3a0c" stroke="none" stroke-width="1" />
<polygon points="977.8,305.2 992.2,314.5 992.2,321.3 977.8,312" fill="#ea3a0c" stroke="none" stroke-width="1" />
<path d="M996.8,441.8 L992.4,437.2 C1001,430 1004,417 1012.5,415.6 C1019,414.6 1021,419 1026,416 C1035,410 1037,383 1047.4,381.5 C1055,380.5 1062,387 1063,395 L1063,400.3 Z" transform="translate(-2.8,-1.8)" fill="#5c1204" stroke="#e2340c" stroke-width="0.8"/>
<path d="M996.8,441.8 L992.4,437.2 C1001,430 1004,417 1012.5,415.6 C1019,414.6 1021,419 1026,416 C1035,410 1037,383 1047.4,381.5 C1055,380.5 1062,387 1063,395 L1063,400.3 Z" fill="#e83c0a"/>
<polygon points="1194.9,501.3 1263.1,546.1 1263.1,552.3 1194.9,507.5" fill="#8a2c06" stroke="#f05a10" stroke-width="1" />
<polygon points="1173.7,600.4 1230.1,638.7 1230.1,644.9 1173.7,606.6" fill="#b23c08" stroke="#f05a10" stroke-width="1" />
<polygon points="1230.1,638.7 1388.7,539.7 1388.7,545.9 1230.1,644.9" fill="#8a2c06" stroke="#f05a10" stroke-width="1" />
<polygon points="1194.9,501.3 1263.2,458.4 1388.7,539.7 1230.1,638.7 1173.7,600.4 1263.1,546.1" fill="url(#g41)" stroke="#f05a10" stroke-width="1.1" stroke-linejoin="round"/>
<path d="M1263.1,546.1 L1321.7,581.6 L1317.5,583.4 C1297,580.5 1281,580 1277,577 C1271.5,571 1269,558 1263.1,546.1 Z" fill="#f2580a"/>
<polygon points="1224.2,467.9 1254.6,486.9 1254.6,521.5 1224.2,502.5" fill="url(#g42)" stroke="#f05a10" stroke-width="1.2" fill-opacity="0.88" stroke-linejoin="round"/>
<polygon points="1254.6,486.9 1285,467.9 1285,502.5 1254.6,521.5" fill="url(#g43)" stroke="#f05a10" stroke-width="1.2" fill-opacity="0.88" stroke-linejoin="round"/>
<polygon points="1254.6,448.9 1285,467.9 1254.6,486.9 1224.2,467.9" fill="#4c1604" stroke="#f05a10" stroke-width="1.2" fill-opacity="0.76" stroke-linejoin="round"/>
<polygon points="1284.9,513 1315.3,532 1315.3,566.6 1284.9,547.6" fill="url(#g44)" stroke="#f05a10" stroke-width="1.2" fill-opacity="0.88" stroke-linejoin="round"/>
<polygon points="1315.3,532 1345.7,513 1345.7,547.6 1315.3,566.6" fill="url(#g45)" stroke="#f05a10" stroke-width="1.2" fill-opacity="0.88" stroke-linejoin="round"/>
<polygon points="1315.3,494 1345.7,513 1315.3,532 1284.9,513" fill="#4c1604" stroke="#f05a10" stroke-width="1.2" fill-opacity="0.76" stroke-linejoin="round"/>
<polygon points="1209.9,565.9 1240.3,584.9 1240.3,619.5 1209.9,600.5" fill="url(#g46)" stroke="#f05a10" stroke-width="1.2" fill-opacity="0.88" stroke-linejoin="round"/>
<polygon points="1240.3,584.9 1270.7,565.9 1270.7,600.5 1240.3,619.5" fill="url(#g47)" stroke="#f05a10" stroke-width="1.2" fill-opacity="0.88" stroke-linejoin="round"/>
<polygon points="1240.3,546.9 1270.7,565.9 1240.3,584.9 1209.9,565.9" fill="#4c1604" stroke="#f05a10" stroke-width="1.2" fill-opacity="0.76" stroke-linejoin="round"/>
<polyline points="1223.7,483.2 1263.2,458.4 1284.4,472.2" fill="none" stroke="#f05a10" stroke-width="0.9" stroke-opacity="0.75"/>
<polyline points="1209.9,578.4 1254,551.6" fill="none" stroke="#f05a10" stroke-width="0.9" stroke-opacity="0.75"/>
<path d="M1196.9,520.4 C1204.6,527.4 1211.2,543 1211.8,559.6" fill="none" stroke="#c2440a" stroke-width="3.6" stroke-linecap="round"/>
<path d="M1149.3,529.2 Q1149.3,525.9 1152.3,524.4 L1178.7,510.8 Q1181.7,509.3 1184.8,511.1 L1193.2,516.3 Q1195.9,518 1195.9,521.4 L1195.9,552.7 Q1195.9,555.7 1193.2,557.2 L1173.9,568.1 Q1170.7,569.7 1167.5,568.1 L1152.3,562.3 Q1149.3,560.8 1149.3,557.5 Z" fill="url(#g48)" stroke="#f05a10" stroke-width="1"/>
<path d="M1170.6,537 L1195.7,520.2 L1195.9,552.7 Q1195.9,555.7 1193.2,557.2 L1173.9,568.1 Q1171.5,569.3 1170.6,568.3 Z" fill="url(#g49)"/>
<path d="M1149.6,527.4 Q1149.6,525.7 1152.3,524.4 L1178.7,510.8 Q1181.7,509.3 1184.8,511.1 L1193.2,516.3 Q1195.7,518 1195.7,520.2 L1170.6,537 Z" fill="url(#g50)" stroke="#f05a10" stroke-width="0.9"/>
<path d="M1170.6,537 L1170.6,568.3" stroke="#f05a10" stroke-width="0.9"/>
<path d="M1164.9,508.1 L1164.9,520.2 A7.2,5.1 0 0 0 1179.3,520.2 L1179.3,508.1 Z" fill="#b8420a" fill-opacity="0.85" stroke="#f05a10" stroke-width="0.8"/>
<path d="M1154.7,555.1 C1161.3,568.3 1180.5,571.9 1191.6,564.5" fill="none" stroke="#c2440a" stroke-width="3.6" stroke-linecap="round" stroke-opacity="0.85"/>
<ellipse cx="1153.5" cy="546.6" rx="10.1" ry="12" fill="#b03c08" fill-opacity="0.7" stroke="#f05a10" stroke-opacity="0.6" stroke-width="0.8" transform="rotate(-18 1153.5 546.6)"/>
<ellipse cx="1149.5" cy="547.2" rx="4.3" ry="6.3" fill="#f2560a" transform="rotate(-18 1149.5 547.2)"/>
<g transform="translate(1174.8,500.6) rotate(-48.7)">
<g transform="rotate(48.7) translate(-10.3,-5.7) rotate(-48.7)"><rect x="-23.5" y="-7.5" width="47" height="14.9" rx="7.5" fill="#6a2005" stroke="#f05a10" stroke-width="1"/></g>
<g transform="rotate(48.7) translate(-8.3,-4.5) rotate(-48.7)"><rect x="-23.5" y="-7.5" width="47" height="14.9" rx="7.5" fill="#74260a"/></g>
<g transform="rotate(48.7) translate(-6.2,-3.4) rotate(-48.7)"><rect x="-23.5" y="-7.5" width="47" height="14.9" rx="7.5" fill="#74260a"/></g>
<g transform="rotate(48.7) translate(-4.1,-2.3) rotate(-48.7)"><rect x="-23.5" y="-7.5" width="47" height="14.9" rx="7.5" fill="#74260a"/></g>
<g transform="rotate(48.7) translate(-2.1,-1.1) rotate(-48.7)"><rect x="-23.5" y="-7.5" width="47" height="14.9" rx="7.5" fill="#74260a"/></g>
<rect x="-23.5" y="-7.5" width="47" height="14.9" rx="7.5" fill="#6c2206" stroke="#f05a10" stroke-width="1"/>
<rect x="-15.9" y="-3.7" width="29.8" height="8.7" rx="4.3" fill="#f2560a"/>
<circle cx="18.2" cy="-2.2" r="1.2" fill="#f2560a"/>
</g>
<ellipse cx="1546.6" cy="345" rx="74" ry="84" fill="url(#g51)"/>
<polygon points="1478.4,196 1614.8,196 1614.8,309.2 1546.6,351.4 1478.4,309.2" fill="url(#g52)" stroke="none" stroke-width="1" />
<polyline points="1478.4,385.7 1546.6,343.5 1614.8,385.7" fill="none" stroke="#ff7e10" stroke-width="0.8" stroke-opacity="0.55"/>
<line x1="1546.6" y1="326.5" x2="1546.6" y2="343.5" stroke="#ff7e10" stroke-width="0.8" stroke-opacity="0.4"/>
<polygon points="1478.4,368.7 1546.6,410.9 1546.6,427.9 1478.4,385.7" fill="url(#g53)" stroke="#ff7e10" stroke-width="1" fill-opacity="0.7" stroke-linejoin="round"/>
<polygon points="1546.6,410.9 1614.8,368.7 1614.8,385.7 1546.6,427.9" fill="url(#g54)" stroke="#ff7e10" stroke-width="1" fill-opacity="0.7" stroke-linejoin="round"/>
<polygon points="1546.6,326.5 1614.8,368.7 1546.6,410.9 1478.4,368.7" fill="#c85808" stroke="#ff7e10" stroke-width="1" fill-opacity="0.4" stroke-linejoin="round"/>
<polyline points="1478.4,354.1 1546.6,311.9 1614.8,354.1" fill="none" stroke="#ff7e10" stroke-width="0.8" stroke-opacity="0.55"/>
<line x1="1546.6" y1="295.3" x2="1546.6" y2="311.9" stroke="#ff7e10" stroke-width="0.8" stroke-opacity="0.4"/>
<polygon points="1478.4,337.5 1546.6,379.7 1546.6,396.3 1478.4,354.1" fill="url(#g55)" stroke="#ff7e10" stroke-width="1" fill-opacity="0.62" stroke-linejoin="round"/>
<polygon points="1546.6,379.7 1614.8,337.5 1614.8,354.1 1546.6,396.3" fill="url(#g56)" stroke="#ff7e10" stroke-width="1" fill-opacity="0.62" stroke-linejoin="round"/>
<polygon points="1546.6,295.3 1614.8,337.5 1546.6,379.7 1478.4,337.5" fill="#c85808" stroke="#ff7e10" stroke-width="1" fill-opacity="0.4" stroke-linejoin="round"/>
<polyline points="1478.4,325.8 1546.6,283.6 1614.8,325.8" fill="none" stroke="#ff7e10" stroke-width="0.8" stroke-opacity="0.55"/>
<line x1="1546.6" y1="267" x2="1546.6" y2="283.6" stroke="#ff7e10" stroke-width="0.8" stroke-opacity="0.4"/>
<polygon points="1478.4,309.2 1546.6,351.4 1546.6,368 1478.4,325.8" fill="url(#g57)" stroke="#ff7e10" stroke-width="1" fill-opacity="0.62" stroke-linejoin="round"/>
<polygon points="1546.6,351.4 1614.8,309.2 1614.8,325.8 1546.6,368" fill="url(#g58)" stroke="#ff7e10" stroke-width="1" fill-opacity="0.62" stroke-linejoin="round"/>
<polygon points="1546.6,267 1614.8,309.2 1546.6,351.4 1478.4,309.2" fill="#e06808" stroke="#ff7e10" stroke-width="1" fill-opacity="0.7" stroke-linejoin="round"/>
<path d="M1550.6,301.8 L1563.9,291.3 A25.3,20 0 1 0 1563.9,312.3 Z" fill="#f87408"/>
<path d="M1553.8,300.5 L1570.3,289.8 C1575.5,292.5 1578,297 1577.4,301.5 C1577,307 1574.5,311.5 1571.9,314.1 Z" fill="#f87408"/>
<rect x="0" y="0" width="80.4" height="57.6" rx="2.5" transform="matrix(1,-0.525,0,1,1473.9,228.9)" fill="#7a3806" fill-opacity="0.72" stroke="#ff7e10" stroke-width="1"/>
<rect x="45.1" y="12.2" width="27.8" height="18.1" rx="2.5" transform="matrix(1,-0.525,0,1,1473.9,228.9)" fill="#ff7a08"/>
<line x1="8.6" y1="14.5" x2="36.4" y2="14.5" transform="matrix(1,-0.525,0,1,1473.9,228.9)" stroke="#ff7a08" stroke-width="2.4" stroke-linecap="round"/>
<line x1="8.6" y1="22.8" x2="36.4" y2="22.8" transform="matrix(1,-0.525,0,1,1473.9,228.9)" stroke="#ff7a08" stroke-width="2.4" stroke-linecap="round"/>
<line x1="8.6" y1="31.4" x2="36.4" y2="31.4" transform="matrix(1,-0.525,0,1,1473.9,228.9)" stroke="#ff7a08" stroke-width="2.4" stroke-linecap="round"/>
<line x1="8.6" y1="41.8" x2="36.4" y2="41.8" transform="matrix(1,-0.525,0,1,1473.9,228.9)" stroke="#ff7a08" stroke-width="2.4" stroke-linecap="round"/>
<polygon points="1570.6,447.1 1641,408.3 1664.5,425 1596.5,467.2" fill="#8a3c06" stroke="#ff7e10" stroke-width="1" fill-opacity="0.55"/>
<polyline points="1629.5,424.5 1638.1,419.1 1646.7,424.5" fill="none" stroke="#ff7e10" stroke-width="0.8" stroke-opacity="0.7"/>
<line x1="1638.1" y1="365" x2="1638.1" y2="419.1" stroke="#ff7e10" stroke-width="0.8" stroke-opacity="0.5"/>
<polygon points="1629.5,370.3 1638.1,375.7 1638.1,429.8 1629.5,424.5" fill="#c85808" stroke="#ff7e10" stroke-width="1" fill-opacity="0.5"/>
<polygon points="1638.1,375.7 1646.7,370.3 1646.7,424.5 1638.1,429.8" fill="#a04806" stroke="#ff7e10" stroke-width="1" fill-opacity="0.5"/>
<polygon points="1638.1,365 1646.7,370.3 1638.1,375.7 1629.5,370.3" fill="#ff8a18" stroke="#ff7e10" stroke-width="1" fill-opacity="0.55"/>
<polyline points="1609.4,438.9 1618,433.5 1626.6,438.9" fill="none" stroke="#ff7e10" stroke-width="0.8" stroke-opacity="0.7"/>
<line x1="1618" y1="392.3" x2="1618" y2="433.5" stroke="#ff7e10" stroke-width="0.8" stroke-opacity="0.5"/>
<polygon points="1609.4,397.6 1618,403 1618,444.2 1609.4,438.9" fill="#c85808" stroke="#ff7e10" stroke-width="1" fill-opacity="0.5"/>
<polygon points="1618,403 1626.6,397.6 1626.6,438.9 1618,444.2" fill="#a04806" stroke="#ff7e10" stroke-width="1" fill-opacity="0.5"/>
<polygon points="1618,392.3 1626.6,397.6 1618,403 1609.4,397.6" fill="#ff8a18" stroke="#ff7e10" stroke-width="1" fill-opacity="0.55"/>
<polyline points="1589.3,453.3 1597.9,447.9 1606.5,453.3" fill="none" stroke="#ff7e10" stroke-width="0.8" stroke-opacity="0.7"/>
<line x1="1597.9" y1="419" x2="1597.9" y2="447.9" stroke="#ff7e10" stroke-width="0.8" stroke-opacity="0.5"/>
<polygon points="1589.3,424.3 1597.9,429.7 1597.9,458.6 1589.3,453.3" fill="#c85808" stroke="#ff7e10" stroke-width="1" fill-opacity="0.5"/>
<polygon points="1597.9,429.7 1606.5,424.3 1606.5,453.3 1597.9,458.6" fill="#a04806" stroke="#ff7e10" stroke-width="1" fill-opacity="0.5"/>
<polygon points="1597.9,419 1606.5,424.3 1597.9,429.7 1589.3,424.3" fill="#ff8a18" stroke="#ff7e10" stroke-width="1" fill-opacity="0.55"/>
<path d="M1446.8,730.4 L1501.8,766.8 Q1507.2,770 1512.6,766.8 L1567.6,730.4 L1567.6,755.2 Q1567.6,757.2 1565.1,758.8 L1512.6,793.6 Q1507.2,796.8 1501.8,793.6 L1449.3,758.8 Q1446.8,757.2 1446.8,755.2 Z" fill="url(#g59)" stroke="#f87c10" stroke-width="1.1" stroke-linejoin="round"/>
<path d="M1501.8,766.8 L1501.8,793.6 M1512.6,766.8 L1512.6,793.6" stroke="#f87c10" stroke-width="1" fill="none"/>
<path d="M1501.8,766.8 Q1507.2,770 1512.6,766.8 L1512.6,793.6 Q1507.2,796.8 1501.8,793.6 Z" fill="#7a3806"/>
<ellipse cx="1456.2" cy="751.9" rx="2.2" ry="2.9" fill="#f87410" transform="rotate(-22 1456.2 751.9)"/>
<ellipse cx="1463.6" cy="756.4" rx="2.2" ry="2.9" fill="#f87410" transform="rotate(-22 1463.6 756.4)"/>
<ellipse cx="1471" cy="760.9" rx="2.2" ry="2.9" fill="#f87410" transform="rotate(-22 1471 760.9)"/>
<path d="M1446.8,692 L1501.8,728.4 Q1507.2,731.6 1512.6,728.4 L1567.6,692 L1567.6,716.8 Q1567.6,718.8 1565.1,720.4 L1512.6,755.2 Q1507.2,758.4 1501.8,755.2 L1449.3,720.4 Q1446.8,718.8 1446.8,716.8 Z" fill="url(#g60)" stroke="#f87c10" stroke-width="1.1" stroke-linejoin="round"/>
<path d="M1501.8,728.4 L1501.8,755.2 M1512.6,728.4 L1512.6,755.2" stroke="#f87c10" stroke-width="1" fill="none"/>
<path d="M1501.8,728.4 Q1507.2,731.6 1512.6,728.4 L1512.6,755.2 Q1507.2,758.4 1501.8,755.2 Z" fill="#7a3806"/>
<ellipse cx="1456.2" cy="713.5" rx="2.2" ry="2.9" fill="#f87410" transform="rotate(-22 1456.2 713.5)"/>
<ellipse cx="1463.6" cy="718" rx="2.2" ry="2.9" fill="#f87410" transform="rotate(-22 1463.6 718)"/>
<ellipse cx="1471" cy="722.5" rx="2.2" ry="2.9" fill="#f87410" transform="rotate(-22 1471 722.5)"/>
<path d="M1446.8,653.6 L1501.8,690 Q1507.2,693.2 1512.6,690 L1567.6,653.6 L1567.6,678.4 Q1567.6,680.4 1565.1,682 L1512.6,716.8 Q1507.2,720 1501.8,716.8 L1449.3,682 Q1446.8,680.4 1446.8,678.4 Z" fill="url(#g61)" stroke="#f87c10" stroke-width="1.1" stroke-linejoin="round"/>
<path d="M1501.8,690 L1501.8,716.8 M1512.6,690 L1512.6,716.8" stroke="#f87c10" stroke-width="1" fill="none"/>
<path d="M1501.8,690 Q1507.2,693.2 1512.6,690 L1512.6,716.8 Q1507.2,720 1501.8,716.8 Z" fill="#7a3806"/>
<ellipse cx="1456.2" cy="675.1" rx="2.2" ry="2.9" fill="#f87410" transform="rotate(-22 1456.2 675.1)"/>
<ellipse cx="1463.6" cy="679.6" rx="2.2" ry="2.9" fill="#f87410" transform="rotate(-22 1463.6 679.6)"/>
<ellipse cx="1471" cy="684.1" rx="2.2" ry="2.9" fill="#f87410" transform="rotate(-22 1471 684.1)"/>
<path d="M1501.1,618.5 Q1507.2,614.6 1513.3,618.5 L1562.5,649.7 Q1568.6,653.6 1562.5,657.5 L1513.3,688.7 Q1507.2,692.6 1501.1,688.7 L1451.9,657.5 Q1445.8,653.6 1451.9,649.7 Z" fill="#5a2804" stroke="#f87c10" stroke-width="1" />
<path d="M1496.9,618 Q1507.2,611.4 1517.5,618 L1561.5,645.8 Q1571.8,652.4 1561.5,659 L1517.5,686.8 Q1507.2,693.4 1496.9,686.8 L1452.9,659 Q1442.6,652.4 1452.9,645.8 Z" fill="#a84c08" stroke="#f87c10" stroke-width="1" fill-opacity="0.5"/>
<path d="M1496.9,610.8 Q1507.2,604.2 1517.5,610.8 L1561.5,638.6 Q1571.8,645.2 1561.5,651.8 L1517.5,679.6 Q1507.2,686.2 1496.9,679.6 L1452.9,651.8 Q1442.6,645.2 1452.9,638.6 Z" fill="#b85408" stroke="#f87c10" stroke-width="1.1" fill-opacity="0.6"/>
<path d="M1502.5,632.7 Q1506,630.4 1509.5,632.7 L1527.7,644.5 Q1531.2,646.8 1527.7,649.1 L1509.5,660.9 Q1506,663.2 1502.5,660.9 L1484.3,649.1 Q1480.8,646.8 1484.3,644.5 Z" fill="#ff7c0a" stroke="none" stroke-width="1" />
<path d="M1546.1,794.6 L1601.1,831 Q1606.5,834.2 1611.9,831 L1666.9,794.6 L1666.9,819.4 Q1666.9,821.4 1664.4,823 L1611.9,857.8 Q1606.5,861 1601.1,857.8 L1548.6,823 Q1546.1,821.4 1546.1,819.4 Z" fill="url(#g62)" stroke="#f87c10" stroke-width="1.1" stroke-linejoin="round"/>
<path d="M1601.1,831 L1601.1,857.8 M1611.9,831 L1611.9,857.8" stroke="#f87c10" stroke-width="1" fill="none"/>
<path d="M1601.1,831 Q1606.5,834.2 1611.9,831 L1611.9,857.8 Q1606.5,861 1601.1,857.8 Z" fill="#7a3806"/>
<ellipse cx="1555.5" cy="816.1" rx="2.2" ry="2.9" fill="#f87410" transform="rotate(-22 1555.5 816.1)"/>
<ellipse cx="1562.9" cy="820.6" rx="2.2" ry="2.9" fill="#f87410" transform="rotate(-22 1562.9 820.6)"/>
<ellipse cx="1570.3" cy="825.1" rx="2.2" ry="2.9" fill="#f87410" transform="rotate(-22 1570.3 825.1)"/>
<path d="M1546.1,756.2 L1601.1,792.6 Q1606.5,795.8 1611.9,792.6 L1666.9,756.2 L1666.9,781 Q1666.9,783 1664.4,784.6 L1611.9,819.4 Q1606.5,822.6 1601.1,819.4 L1548.6,784.6 Q1546.1,783 1546.1,781 Z" fill="url(#g63)" stroke="#f87c10" stroke-width="1.1" stroke-linejoin="round"/>
<path d="M1601.1,792.6 L1601.1,819.4 M1611.9,792.6 L1611.9,819.4" stroke="#f87c10" stroke-width="1" fill="none"/>
<path d="M1601.1,792.6 Q1606.5,795.8 1611.9,792.6 L1611.9,819.4 Q1606.5,822.6 1601.1,819.4 Z" fill="#7a3806"/>
<ellipse cx="1555.5" cy="777.7" rx="2.2" ry="2.9" fill="#f87410" transform="rotate(-22 1555.5 777.7)"/>
<ellipse cx="1562.9" cy="782.2" rx="2.2" ry="2.9" fill="#f87410" transform="rotate(-22 1562.9 782.2)"/>
<ellipse cx="1570.3" cy="786.7" rx="2.2" ry="2.9" fill="#f87410" transform="rotate(-22 1570.3 786.7)"/>
<path d="M1600.4,721.1 Q1606.5,717.2 1612.6,721.1 L1661.8,752.3 Q1667.9,756.2 1661.8,760.1 L1612.6,791.3 Q1606.5,795.2 1600.4,791.3 L1551.2,760.1 Q1545.1,756.2 1551.2,752.3 Z" fill="#5a2804" stroke="#f87c10" stroke-width="1" />
<path d="M1596.2,720.6 Q1606.5,714 1616.8,720.6 L1660.8,748.4 Q1671.1,755 1660.8,761.6 L1616.8,789.4 Q1606.5,796 1596.2,789.4 L1552.2,761.6 Q1541.9,755 1552.2,748.4 Z" fill="#a84c08" stroke="#f87c10" stroke-width="1" fill-opacity="0.5"/>
<path d="M1596.2,713.4 Q1606.5,706.8 1616.8,713.4 L1660.8,741.2 Q1671.1,747.8 1660.8,754.4 L1616.8,782.2 Q1606.5,788.8 1596.2,782.2 L1552.2,754.4 Q1541.9,747.8 1552.2,741.2 Z" fill="#b85408" stroke="#f87c10" stroke-width="1.1" fill-opacity="0.6"/>
<path d="M1601.8,735.3 Q1605.3,733 1608.8,735.3 L1627,747.1 Q1630.5,749.4 1627,751.7 L1608.8,763.5 Q1605.3,765.8 1601.8,763.5 L1583.6,751.7 Q1580.1,749.4 1583.6,747.1 Z" fill="#ff7c0a" stroke="none" stroke-width="1" />
<polygon points="1072.7,419 1105.8,419 1096.1,425.6 1082.3,425.6 1082.3,435.2 1072.7,441.8" fill="#ea400a" stroke="none" stroke-width="1" />
<polygon points="1085.3,429.2 1102.7,428.6 1097.3,432.2 1090.7,432.2 1090.7,437 1085.3,440.4" fill="#8c2405" stroke="none" stroke-width="1" />
<polygon points="1154.5,449.7 1154.5,471.9 1122,471.9 1131.6,465.7 1144.9,465.7 1144.9,456.3" fill="#ea400a" stroke="none" stroke-width="1" />
<polygon points="1141.3,451.5 1141.3,463.5 1124.4,463.5 1129.2,459.9 1136.4,459.9 1136.4,455.1" fill="#8c2405" stroke="none" stroke-width="1" />
<polygon points="1346.5,594.8 1379.6,594.8 1369.9,601.4 1356.1,601.4 1356.1,611 1346.5,617.6" fill="#f2600a" stroke="none" stroke-width="1" />
<polygon points="1359.1,605 1376.5,604.4 1371.1,608 1364.5,608 1364.5,612.8 1359.1,616.2" fill="#8e3405" stroke="none" stroke-width="1" />
<polygon points="1427.9,625.6 1427.9,647.8 1395.4,647.8 1405,641.6 1418.3,641.6 1418.3,632.2" fill="#f2600a" stroke="none" stroke-width="1" />
<polygon points="1414.7,627.4 1414.7,639.4 1397.8,639.4 1402.6,635.8 1409.8,635.8 1409.8,631" fill="#8e3405" stroke="none" stroke-width="1" />
<polygon points="910.6,699.3 943.7,699.3 934,705.9 920.2,705.9 920.2,715.5 910.6,722.1" fill="#e4300c" stroke="none" stroke-width="1" />
<polygon points="923.2,709.5 940.6,708.9 935.2,712.5 928.6,712.5 928.6,717.3 923.2,720.7" fill="#861a06" stroke="none" stroke-width="1" />
<polygon points="992.5,730.6 992.5,752.8 960,752.8 969.6,746.6 982.9,746.6 982.9,737.2" fill="#e4300c" stroke="none" stroke-width="1" />
<polygon points="979.3,732.4 979.3,744.4 962.4,744.4 967.2,740.8 974.4,740.8 974.4,736" fill="#861a06" stroke="none" stroke-width="1" />
<rect x="900.2" y="195.3" width="2.6" height="38.7" fill="url(#g64)"/>
<rect x="900.1" y="189.3" width="2.8" height="3.2" fill="#c42c0c"/>
<rect x="1116.5" y="304" width="2.6" height="68" fill="url(#g65)"/>
<rect x="1116.4" y="298" width="2.8" height="3.2" fill="#e04810"/>
<rect x="1488.9" y="200" width="2.6" height="30" fill="url(#g66)"/>
<rect x="1488.8" y="194" width="2.8" height="3.2" fill="#f07810"/>
<rect x="1705.4" y="306" width="2.6" height="71" fill="url(#g67)"/>
<rect x="1705.3" y="300" width="2.8" height="3.2" fill="#f07810"/>
<rect x="1460.7" y="592.5" width="2.6" height="35.5" fill="url(#g68)"/>
<rect x="1460.6" y="586.5" width="2.8" height="3.2" fill="#f07810"/>
<rect x="1677.7" y="698" width="2.6" height="70" fill="url(#g69)"/>
<rect x="1677.6" y="692" width="2.8" height="3.2" fill="#f07810"/>
<rect x="573.7" y="768" width="2.6" height="47" fill="url(#g70)"/>
<rect x="573.6" y="762" width="2.8" height="3.2" fill="#d01810"/>
<rect x="806.2" y="885" width="2.6" height="70" fill="url(#g71)"/>
<rect x="806.1" y="879" width="2.8" height="3.2" fill="#d01810"/>
<rect x="869" y="327.6" width="4" height="104.4" fill="url(#g72)"/>
<rect x="869" y="319.6" width="4" height="4" fill="#e83810"/>
<rect x="1457.5" y="331.6" width="4" height="100.4" fill="url(#g73)"/>
<rect x="1457.5" y="323.6" width="4" height="4" fill="#f8780c"/>
<rect x="1430" y="722.8" width="4" height="112.2" fill="url(#g74)"/>
<rect x="1430" y="714.8" width="4" height="4" fill="#f8780c"/>
<rect x="558.5" y="909.3" width="4" height="110.7" fill="url(#g75)"/>
<rect x="558.5" y="901.3" width="4" height="4" fill="#e01c14"/>
<polygon points="953.9,120.5 954.2,118.7 954.9,117.4 956.1,116.6 966.4,110.2 968,109.9 969.8,110.3 971.7,111.2 1069.2,171.7 1071.1,173.2 1073,175 1074.5,177.2 1075.7,179.5 1076.4,181.8 1076.7,183.8 1076.7,232.2 1076.4,233.9 1075.7,235.3 1074.5,236.1 1064.2,242.5 1062.7,242.7 1060.8,242.3 1058.9,241.4 961.4,180.9 959.5,179.5 957.6,177.6 956.1,175.5 954.9,173.2 954.2,170.9 953.9,168.8" fill="#1e0702" stroke="#f24410" stroke-width="1.2" stroke-linejoin="round"/>
<polygon points="964,114.2 964.3,112.4 965.1,111.1 966.2,110.3 967.8,110 969.6,110.4 971.5,111.3 1069,171.8 1071,173.3 1072.8,175.1 1074.3,177.3 1075.5,179.6 1076.3,181.8 1076.5,183.9 1076.5,232.2 1076.3,234 1075.5,235.4 1074.3,236.2 1072.8,236.4 1071,236 1069,235.1 971.5,174.6 969.6,173.2 967.8,171.3 966.2,169.2 965.1,166.9 964.3,164.6 964,162.5" fill="#401003" stroke="none" stroke-width="1" />
<polygon points="963.1,114.8 963.3,113 964.1,111.7 965.3,110.9 966.8,110.6 968.6,111 970.6,112 1068.1,172.4 1070,173.9 1071.8,175.7 1073.4,177.9 1074.6,180.2 1075.3,182.5 1075.6,184.6 1075.6,232.9 1075.3,234.6 1074.6,236 1073.4,236.8 1071.8,237 1070,236.7 1068.1,235.7 970.6,175.3 968.6,173.8 966.8,171.9 965.3,169.8 964.1,167.5 963.3,165.2 963.1,163.1" fill="#380e03" stroke="none" stroke-width="1" />
<polygon points="961.9,115.5 962.2,113.7 962.9,112.4 964.1,111.6 965.7,111.4 967.5,111.7 969.4,112.7 1066.9,173.1 1068.9,174.6 1070.7,176.5 1072.2,178.6 1073.4,180.9 1074.2,183.2 1074.4,185.3 1074.4,233.6 1074.2,235.4 1073.4,236.7 1072.2,237.5 1070.7,237.7 1068.9,237.4 1066.9,236.4 969.4,176 967.5,174.5 965.7,172.6 964.1,170.5 962.9,168.2 962.2,165.9 961.9,163.8" fill="#2f0c03" stroke="none" stroke-width="1" />
<polygon points="960.8,116.2 961,114.5 961.8,113.1 963,112.3 964.5,112.1 966.3,112.4 968.3,113.4 1065.8,173.8 1067.7,175.3 1069.5,177.2 1071.1,179.3 1072.3,181.6 1073,183.9 1073.3,186 1073.3,234.3 1073,236.1 1072.3,237.4 1071.1,238.2 1069.5,238.5 1067.7,238.1 1065.8,237.1 968.3,176.7 966.3,175.2 964.5,173.4 963,171.2 961.8,168.9 961,166.6 960.8,164.5" fill="#270902" stroke="none" stroke-width="1" />
<polygon points="959.6,116.9 959.9,115.2 960.6,113.8 961.8,113 963.4,112.8 965.2,113.1 967.1,114.1 1064.6,174.5 1066.6,176 1068.4,177.9 1069.9,180 1071.1,182.3 1071.9,184.6 1072.1,186.7 1072.1,235 1071.9,236.8 1071.1,238.1 1069.9,238.9 1068.4,239.2 1066.6,238.8 1064.6,237.8 967.1,177.4 965.2,175.9 963.4,174.1 961.8,171.9 960.6,169.6 959.9,167.3 959.6,165.2" fill="#1e0702" stroke="none" stroke-width="1" />
<polygon points="958.5,117.7 958.7,115.9 959.5,114.5 960.7,113.7 962.2,113.5 964,113.9 966,114.8 1063.5,175.3 1065.4,176.7 1067.2,178.6 1068.8,180.7 1070,183 1070.7,185.3 1071,187.4 1071,235.7 1070.7,237.5 1070,238.8 1068.8,239.6 1067.2,239.9 1065.4,239.5 1063.5,238.6 966,178.1 964,176.6 962.2,174.8 960.7,172.6 959.5,170.3 958.7,168.1 958.5,166" fill="#270902" stroke="none" stroke-width="1" />
<polygon points="957.3,118.4 957.6,116.6 958.3,115.2 959.5,114.4 961.1,114.2 962.9,114.6 964.8,115.5 1062.3,176 1064.3,177.4 1066.1,179.3 1067.6,181.5 1068.8,183.7 1069.6,186 1069.8,188.1 1069.8,236.4 1069.6,238.2 1068.8,239.5 1067.6,240.4 1066.1,240.6 1064.3,240.2 1062.3,239.3 964.8,178.8 962.9,177.4 961.1,175.5 959.5,173.3 958.3,171 957.6,168.8 957.3,166.7" fill="#300b03" stroke="none" stroke-width="1" />
<polygon points="956.2,119.1 956.4,117.3 957.2,116 958.4,115.1 959.9,114.9 961.7,115.3 963.7,116.2 1061.2,176.7 1063.1,178.1 1064.9,180 1066.5,182.2 1067.7,184.5 1068.4,186.7 1068.7,188.8 1068.7,237.1 1068.4,238.9 1067.7,240.3 1066.5,241.1 1064.9,241.3 1063.1,240.9 1061.2,240 963.7,179.5 961.7,178.1 959.9,176.2 958.4,174 957.2,171.8 956.4,169.5 956.2,167.4" fill="#3b0e03" stroke="none" stroke-width="1" />
<polygon points="955,119.8 955.3,118 956,116.7 957.2,115.8 958.8,115.6 960.6,116 962.5,116.9 1060,177.4 1062,178.8 1063.8,180.7 1065.3,182.9 1066.5,185.2 1067.3,187.4 1067.5,189.5 1067.5,237.8 1067.3,239.6 1066.5,241 1065.3,241.8 1063.8,242 1062,241.6 1060,240.7 962.5,180.2 960.6,178.8 958.8,176.9 957.2,174.8 956,172.5 955.3,170.2 955,168.1" fill="#481103" stroke="none" stroke-width="1" />
<polygon points="953.9,120.5 954.2,118.7 954.9,117.4 956.1,116.6 966.4,110.2 968,109.9 969.8,110.3 971.7,111.2 1069.2,171.7 1071.1,173.2 1073,175 1074.5,177.2 1075.7,179.5 1076.4,181.8 1076.7,183.8 1076.7,232.2 1076.4,233.9 1075.7,235.3 1074.5,236.1 1064.2,242.5 1062.7,242.7 1060.8,242.3 1058.9,241.4 961.4,180.9 959.5,179.5 957.6,177.6 956.1,175.5 954.9,173.2 954.2,170.9 953.9,168.8" fill="none" stroke="#f24410" stroke-width="1.2" stroke-linejoin="round"/>
<path d="M7.5,0 H105 A7.5,7.5 0 0 1 112.5,7.5 V55.8 A7.5,7.5 0 0 1 105,63.3 H67.4 L56.2,78.9 L43.7,63.3 H7.5 A7.5,7.5 0 0 1 0,55.8 V7.5 A7.5,7.5 0 0 1 7.5,0 Z" transform="matrix(1,0.62,0,1,953.9,113)" fill="url(#g76)" stroke="#f24410" stroke-width="1.3" stroke-linejoin="round"/>
<text transform="matrix(1,0.62,0,1,1008.5,177)" text-anchor="middle" y="5.6" font-size="16" font-family="'Liberation Sans', 'Noto Sans CJK SC', sans-serif" font-weight="700" fill="#fbe3c6" letter-spacing="-0.2" opacity="0.99">操控中心</text>
<polygon points="1573.4,100.1 1573.7,98.3 1574.4,96.9 1575.6,96 1585.9,89.7 1587.5,89.3 1589.3,89.6 1591.2,90.5 1724.1,166.1 1726,167.4 1727.8,169.2 1729.4,171.3 1730.6,173.5 1731.3,175.8 1731.6,177.9 1731.6,230.9 1731.3,232.7 1730.6,234 1729.4,234.9 1719.1,241.3 1717.5,241.6 1715.7,241.3 1713.8,240.5 1580.9,164.9 1579,163.5 1577.2,161.7 1575.6,159.7 1574.4,157.4 1573.7,155.2 1573.4,153.1" fill="#201002" stroke="#ff8a10" stroke-width="1.2" stroke-linejoin="round"/>
<polygon points="1583.5,93.8 1583.8,92 1584.6,90.6 1585.7,89.7 1587.3,89.4 1589.1,89.7 1591,90.6 1723.9,166.2 1725.9,167.5 1727.7,169.3 1729.2,171.4 1730.4,173.6 1731.2,175.9 1731.4,178 1731.4,231 1731.2,232.7 1730.4,234.1 1729.2,235 1727.7,235.3 1725.9,235 1723.9,234.2 1591,158.6 1589.1,157.2 1587.3,155.4 1585.7,153.3 1584.6,151.1 1583.8,148.9 1583.5,146.8" fill="#4a2203" stroke="none" stroke-width="1" />
<polygon points="1582.6,94.4 1582.8,92.6 1583.6,91.2 1584.8,90.4 1586.3,90 1588.1,90.3 1590.1,91.2 1723,166.8 1724.9,168.2 1726.7,169.9 1728.3,172 1729.5,174.2 1730.2,176.5 1730.5,178.6 1730.5,231.6 1730.2,233.4 1729.5,234.7 1728.3,235.6 1726.7,235.9 1724.9,235.6 1723,234.8 1590.1,159.2 1588.1,157.8 1586.3,156 1584.8,154 1583.6,151.7 1582.8,149.5 1582.6,147.4" fill="#401e03" stroke="none" stroke-width="1" />
<polygon points="1581.4,95.1 1581.7,93.3 1582.4,91.9 1583.6,91.1 1585.2,90.8 1587,91 1588.9,91.9 1721.8,167.5 1723.8,168.9 1725.6,170.6 1727.1,172.7 1728.3,175 1729.1,177.2 1729.3,179.3 1729.3,232.3 1729.1,234.1 1728.3,235.5 1727.1,236.3 1725.6,236.6 1723.8,236.4 1721.8,235.5 1588.9,159.9 1587,158.5 1585.2,156.8 1583.6,154.7 1582.4,152.4 1581.7,150.2 1581.4,148.1" fill="#351903" stroke="none" stroke-width="1" />
<polygon points="1580.3,95.8 1580.5,94 1581.3,92.7 1582.5,91.8 1584,91.5 1585.8,91.8 1587.8,92.6 1720.7,168.2 1722.6,169.6 1724.4,171.4 1726,173.4 1727.2,175.7 1727.9,177.9 1728.2,180 1728.2,233 1727.9,234.8 1727.2,236.2 1726,237 1724.4,237.3 1722.6,237.1 1720.7,236.2 1587.8,160.6 1585.8,159.2 1584,157.5 1582.5,155.4 1581.3,153.2 1580.5,150.9 1580.3,148.8" fill="#2b1502" stroke="none" stroke-width="1" />
<polygon points="1579.1,96.5 1579.4,94.7 1580.1,93.4 1581.3,92.5 1582.9,92.2 1584.7,92.5 1586.6,93.3 1719.5,168.9 1721.5,170.3 1723.3,172.1 1724.8,174.1 1726,176.4 1726.8,178.6 1727,180.7 1727,233.7 1726.8,235.5 1726,236.9 1724.8,237.8 1723.3,238.1 1721.5,237.8 1719.5,236.9 1586.6,161.3 1584.7,160 1582.9,158.2 1581.3,156.1 1580.1,153.9 1579.4,151.6 1579.1,149.5" fill="#211002" stroke="none" stroke-width="1" />
<polygon points="1578,97.3 1578.2,95.5 1579,94.1 1580.2,93.2 1581.7,92.9 1583.5,93.2 1585.5,94 1718.4,169.6 1720.3,171 1722.1,172.8 1723.7,174.9 1724.9,177.1 1725.6,179.3 1725.9,181.4 1725.9,234.4 1725.6,236.2 1724.9,237.6 1723.7,238.5 1722.1,238.8 1720.3,238.5 1718.4,237.6 1585.5,162 1583.5,160.7 1581.7,158.9 1580.2,156.8 1579,154.6 1578.2,152.3 1578,150.3" fill="#2a1402" stroke="none" stroke-width="1" />
<polygon points="1576.8,98 1577.1,96.2 1577.8,94.8 1579,93.9 1580.6,93.6 1582.4,93.9 1584.3,94.7 1717.2,170.4 1719.2,171.7 1721,173.5 1722.5,175.6 1723.7,177.8 1724.5,180 1724.7,182.1 1724.7,235.1 1724.5,236.9 1723.7,238.3 1722.5,239.2 1721,239.5 1719.2,239.2 1717.2,238.4 1584.3,162.7 1582.4,161.4 1580.6,159.6 1579,157.5 1577.8,155.3 1577.1,153.1 1576.8,151" fill="#361903" stroke="none" stroke-width="1" />
<polygon points="1575.7,98.7 1575.9,96.9 1576.7,95.5 1577.9,94.6 1579.4,94.3 1581.2,94.6 1583.2,95.4 1716.1,171.1 1718,172.4 1719.8,174.2 1721.4,176.3 1722.6,178.5 1723.3,180.7 1723.6,182.8 1723.6,235.8 1723.3,237.6 1722.6,239 1721.4,239.9 1719.8,240.2 1718,239.9 1716.1,239.1 1583.2,163.4 1581.2,162.1 1579.4,160.3 1577.9,158.2 1576.7,156 1575.9,153.8 1575.7,151.7" fill="#431f03" stroke="none" stroke-width="1" />
<polygon points="1574.5,99.4 1574.8,97.6 1575.5,96.2 1576.7,95.3 1578.3,95 1580.1,95.3 1582,96.2 1714.9,171.8 1716.9,173.1 1718.7,174.9 1720.2,177 1721.4,179.2 1722.2,181.5 1722.4,183.5 1722.4,236.5 1722.2,238.3 1721.4,239.7 1720.2,240.6 1718.7,240.9 1716.9,240.6 1714.9,239.8 1582,164.2 1580.1,162.8 1578.3,161 1576.7,158.9 1575.5,156.7 1574.8,154.5 1574.5,152.4" fill="#522603" stroke="none" stroke-width="1" />
<polygon points="1573.4,100.1 1573.7,98.3 1574.4,96.9 1575.6,96 1585.9,89.7 1587.5,89.3 1589.3,89.6 1591.2,90.5 1724.1,166.1 1726,167.4 1727.8,169.2 1729.4,171.3 1730.6,173.5 1731.3,175.8 1731.6,177.9 1731.6,230.9 1731.3,232.7 1730.6,234 1729.4,234.9 1719.1,241.3 1717.5,241.6 1715.7,241.3 1713.8,240.5 1580.9,164.9 1579,163.5 1577.2,161.7 1575.6,159.7 1574.4,157.4 1573.7,155.2 1573.4,153.1" fill="none" stroke="#ff8a10" stroke-width="1.2" stroke-linejoin="round"/>
<path d="M7.5,0 H140.4 A7.5,7.5 0 0 1 147.9,7.5 V60.5 A7.5,7.5 0 0 1 140.4,68 H88.9 L77.1,84.3 L65.3,68 H7.5 A7.5,7.5 0 0 1 0,60.5 V7.5 A7.5,7.5 0 0 1 7.5,0 Z" transform="matrix(1,0.569,0,1,1573.4,92.6)" fill="url(#g77)" stroke="#ff8a10" stroke-width="1.3" stroke-linejoin="round"/>
<text transform="matrix(1,0.569,0,1,1642.5,166.5)" text-anchor="middle" y="5.6" font-size="16" font-family="'Liberation Sans', 'Noto Sans CJK SC', sans-serif" font-weight="700" fill="#fbe3c6" letter-spacing="-0.2" opacity="0.99">总控机房</text>
<polygon points="1268.1,316.7 1268.4,314.9 1269.1,313.6 1270.3,312.8 1280.6,306.4 1282.2,306.2 1284,306.6 1285.9,307.5 1402.3,380.9 1404.2,382.3 1406,384.2 1407.6,386.4 1408.8,388.7 1409.5,391 1409.8,393.1 1409.8,439.9 1409.5,441.7 1408.8,443 1407.6,443.8 1397.3,450.2 1395.8,450.4 1393.9,450 1392,449.1 1275.6,375.7 1273.7,374.2 1271.8,372.4 1270.3,370.2 1269.1,367.9 1268.4,365.6 1268.1,363.5" fill="#1e0902" stroke="#f8600e" stroke-width="1.2" stroke-linejoin="round"/>
<polygon points="1278.2,310.4 1278.5,308.6 1279.3,307.3 1280.4,306.5 1282,306.3 1283.8,306.7 1285.7,307.6 1402.1,381 1404.1,382.4 1405.9,384.3 1407.4,386.5 1408.6,388.8 1409.4,391.1 1409.6,393.2 1409.6,440 1409.4,441.8 1408.6,443.1 1407.4,443.9 1405.9,444.1 1404.1,443.7 1402.1,442.8 1285.7,369.4 1283.8,367.9 1282,366.1 1280.4,363.9 1279.3,361.6 1278.5,359.3 1278.2,357.2" fill="#421403" stroke="none" stroke-width="1" />
<polygon points="1277.3,311 1277.5,309.2 1278.3,307.9 1279.5,307.1 1281,306.9 1282.8,307.3 1284.8,308.2 1401.2,381.6 1403.1,383 1404.9,384.9 1406.5,387.1 1407.7,389.4 1408.4,391.7 1408.7,393.8 1408.7,440.6 1408.4,442.4 1407.7,443.7 1406.5,444.5 1404.9,444.7 1403.1,444.3 1401.2,443.4 1284.8,370 1282.8,368.6 1281,366.7 1279.5,364.5 1278.3,362.2 1277.5,359.9 1277.3,357.8" fill="#391103" stroke="none" stroke-width="1" />
<polygon points="1276.1,311.7 1276.4,309.9 1277.1,308.6 1278.3,307.8 1279.9,307.6 1281.7,308 1283.6,308.9 1400,382.3 1402,383.8 1403.8,385.6 1405.3,387.8 1406.5,390.1 1407.3,392.4 1407.5,394.5 1407.5,441.3 1407.3,443.1 1406.5,444.4 1405.3,445.2 1403.8,445.4 1402,445 1400,444.1 1283.6,370.7 1281.7,369.3 1279.9,367.4 1278.3,365.2 1277.1,362.9 1276.4,360.6 1276.1,358.5" fill="#300f03" stroke="none" stroke-width="1" />
<polygon points="1275,312.4 1275.2,310.7 1276,309.3 1277.2,308.5 1278.7,308.3 1280.5,308.7 1282.5,309.7 1398.9,383 1400.8,384.5 1402.6,386.4 1404.2,388.5 1405.4,390.8 1406.1,393.1 1406.4,395.2 1406.4,442 1406.1,443.8 1405.4,445.1 1404.2,445.9 1402.6,446.1 1400.8,445.8 1398.9,444.8 1282.5,371.5 1280.5,370 1278.7,368.1 1277.2,365.9 1276,363.6 1275.2,361.3 1275,359.2" fill="#270c02" stroke="none" stroke-width="1" />
<polygon points="1273.8,313.1 1274.1,311.4 1274.8,310 1276,309.2 1277.6,309 1279.4,309.4 1281.3,310.4 1397.7,383.7 1399.7,385.2 1401.5,387.1 1403,389.2 1404.2,391.5 1405,393.8 1405.2,395.9 1405.2,442.7 1405,444.5 1404.2,445.8 1403,446.6 1401.5,446.9 1399.7,446.5 1397.7,445.5 1281.3,372.2 1279.4,370.7 1277.6,368.8 1276,366.6 1274.8,364.3 1274.1,362 1273.8,359.9" fill="#1e0902" stroke="none" stroke-width="1" />
<polygon points="1272.7,313.9 1272.9,312.1 1273.7,310.7 1274.9,309.9 1276.4,309.7 1278.2,310.1 1280.2,311.1 1396.6,384.4 1398.5,385.9 1400.3,387.8 1401.9,390 1403.1,392.3 1403.8,394.5 1404.1,396.6 1404.1,443.4 1403.8,445.2 1403.1,446.6 1401.9,447.4 1400.3,447.6 1398.5,447.2 1396.6,446.2 1280.2,372.9 1278.2,371.4 1276.4,369.5 1274.9,367.3 1273.7,365 1272.9,362.8 1272.7,360.7" fill="#270c02" stroke="none" stroke-width="1" />
<polygon points="1271.5,314.6 1271.8,312.8 1272.5,311.4 1273.7,310.6 1275.3,310.4 1277.1,310.8 1279,311.8 1395.4,385.1 1397.4,386.6 1399.2,388.5 1400.7,390.7 1401.9,393 1402.7,395.2 1402.9,397.3 1402.9,444.1 1402.7,445.9 1401.9,447.3 1400.7,448.1 1399.2,448.3 1397.4,447.9 1395.4,446.9 1279,373.6 1277.1,372.1 1275.3,370.2 1273.7,368.1 1272.5,365.7 1271.8,363.5 1271.5,361.4" fill="#321003" stroke="none" stroke-width="1" />
<polygon points="1270.4,315.3 1270.6,313.5 1271.4,312.2 1272.6,311.4 1274.1,311.1 1275.9,311.5 1277.9,312.5 1394.3,385.8 1396.2,387.3 1398,389.2 1399.6,391.4 1400.8,393.7 1401.5,396 1401.8,398.1 1401.8,444.9 1401.5,446.6 1400.8,448 1399.6,448.8 1398,449 1396.2,448.6 1394.3,447.6 1277.9,374.3 1275.9,372.8 1274.1,370.9 1272.6,368.8 1271.4,366.5 1270.6,364.2 1270.4,362.1" fill="#3d1403" stroke="none" stroke-width="1" />
<polygon points="1269.2,316 1269.5,314.2 1270.2,312.9 1271.4,312.1 1273,311.9 1274.8,312.2 1276.7,313.2 1393.1,386.5 1395.1,388 1396.9,389.9 1398.4,392.1 1399.6,394.4 1400.4,396.7 1400.6,398.8 1400.6,445.6 1400.4,447.4 1399.6,448.7 1398.4,449.5 1396.9,449.7 1395.1,449.3 1393.1,448.3 1276.7,375 1274.8,373.5 1273,371.6 1271.4,369.5 1270.2,367.2 1269.5,364.9 1269.2,362.8" fill="#4a1803" stroke="none" stroke-width="1" />
<polygon points="1268.1,316.7 1268.4,314.9 1269.1,313.6 1270.3,312.8 1280.6,306.4 1282.2,306.2 1284,306.6 1285.9,307.5 1402.3,380.9 1404.2,382.3 1406,384.2 1407.6,386.4 1408.8,388.7 1409.5,391 1409.8,393.1 1409.8,439.9 1409.5,441.7 1408.8,443 1407.6,443.8 1397.3,450.2 1395.8,450.4 1393.9,450 1392,449.1 1275.6,375.7 1273.7,374.2 1271.8,372.4 1270.3,370.2 1269.1,367.9 1268.4,365.6 1268.1,363.5" fill="none" stroke="#f8600e" stroke-width="1.2" stroke-linejoin="round"/>
<path d="M7.5,0 H123.9 A7.5,7.5 0 0 1 131.4,7.5 V54.3 A7.5,7.5 0 0 1 123.9,61.8 H80.2 L69.2,77.2 L57.4,61.8 H7.5 A7.5,7.5 0 0 1 0,54.3 V7.5 A7.5,7.5 0 0 1 7.5,0 Z" transform="matrix(1,0.63,0,1,1268.1,309.2)" fill="url(#g78)" stroke="#f8600e" stroke-width="1.3" stroke-linejoin="round"/>
<text transform="matrix(1,0.63,0,1,1331,381.3)" text-anchor="middle" y="5.6" font-size="16" font-family="'Liberation Sans', 'Noto Sans CJK SC', sans-serif" font-weight="700" fill="#fbe3c6" letter-spacing="-0.2" opacity="0.99">中控中心</text>
<polygon points="778.9,420.6 779.2,418.8 779.9,417.5 781.1,416.7 791.4,410.3 793,410.1 794.8,410.4 796.7,411.4 914.6,485.6 916.5,487.1 918.4,488.9 919.9,491.1 921.1,493.4 921.8,495.7 922.1,497.8 922.1,546.5 921.8,548.3 921.1,549.6 919.9,550.4 909.6,556.8 908,557 906.2,556.6 904.3,555.7 786.4,481.5 784.5,480 782.6,478.1 781.1,476 779.9,473.7 779.2,471.4 778.9,469.3" fill="#1c0402" stroke="#f02c10" stroke-width="1.2" stroke-linejoin="round"/>
<polygon points="789,414.3 789.3,412.5 790.1,411.2 791.2,410.4 792.8,410.2 794.6,410.5 796.5,411.5 914.4,485.7 916.4,487.1 918.2,489 919.7,491.2 920.9,493.5 921.7,495.8 921.9,497.9 921.9,546.6 921.7,548.4 920.9,549.7 919.7,550.5 918.2,550.7 916.4,550.3 914.4,549.4 796.5,475.2 794.6,473.7 792.8,471.8 791.2,469.7 790.1,467.4 789.3,465.1 789,463" fill="#3c0803" stroke="none" stroke-width="1" />
<polygon points="788.1,414.9 788.3,413.1 789.1,411.8 790.3,411 791.8,410.8 793.6,411.2 795.6,412.1 913.5,486.3 915.4,487.8 917.2,489.7 918.8,491.8 920,494.1 920.7,496.4 921,498.5 921,547.2 920.7,549 920,550.3 918.8,551.1 917.2,551.3 915.4,551 913.5,550 795.6,475.8 793.6,474.4 791.8,472.5 790.3,470.3 789.1,468 788.3,465.7 788.1,463.6" fill="#340703" stroke="none" stroke-width="1" />
<polygon points="786.9,415.6 787.2,413.8 787.9,412.5 789.1,411.7 790.7,411.5 792.5,411.9 794.4,412.8 912.3,487 914.3,488.5 916.1,490.4 917.6,492.5 918.8,494.8 919.6,497.1 919.8,499.2 919.8,547.9 919.6,549.7 918.8,551 917.6,551.8 916.1,552.1 914.3,551.7 912.3,550.7 794.4,476.5 792.5,475.1 790.7,473.2 789.1,471 787.9,468.7 787.2,466.4 786.9,464.3" fill="#2c0603" stroke="none" stroke-width="1" />
<polygon points="785.8,416.3 786,414.6 786.8,413.2 788,412.4 789.5,412.2 791.3,412.6 793.3,413.6 911.2,487.7 913.1,489.2 914.9,491.1 916.5,493.2 917.7,495.5 918.4,497.8 918.7,499.9 918.7,548.6 918.4,550.4 917.7,551.7 916.5,552.5 914.9,552.8 913.1,552.4 911.2,551.4 793.3,477.3 791.3,475.8 789.5,473.9 788,471.7 786.8,469.4 786,467.1 785.8,465" fill="#240502" stroke="none" stroke-width="1" />
<polygon points="784.6,417 784.9,415.3 785.6,413.9 786.8,413.1 788.4,412.9 790.2,413.3 792.1,414.3 910,488.4 912,489.9 913.8,491.8 915.3,494 916.5,496.3 917.3,498.5 917.5,500.6 917.5,549.3 917.3,551.1 916.5,552.5 915.3,553.3 913.8,553.5 912,553.1 910,552.1 792.1,478 790.2,476.5 788.4,474.6 786.8,472.4 785.6,470.1 784.9,467.8 784.6,465.7" fill="#1c0402" stroke="none" stroke-width="1" />
<polygon points="783.5,417.8 783.7,416 784.5,414.6 785.7,413.8 787.2,413.6 789,414 791,415 908.9,489.1 910.8,490.6 912.6,492.5 914.2,494.7 915.4,497 916.1,499.2 916.4,501.3 916.4,550 916.1,551.8 915.4,553.2 914.2,554 912.6,554.2 910.8,553.8 908.9,552.8 791,478.7 789,477.2 787.2,475.3 785.7,473.1 784.5,470.8 783.7,468.6 783.5,466.5" fill="#250502" stroke="none" stroke-width="1" />
<polygon points="782.3,418.5 782.6,416.7 783.3,415.3 784.5,414.5 786.1,414.3 787.9,414.7 789.8,415.7 907.7,489.8 909.7,491.3 911.5,493.2 913,495.4 914.2,497.7 915,500 915.2,502.1 915.2,550.8 915,552.5 914.2,553.9 913,554.7 911.5,554.9 909.7,554.5 907.7,553.5 789.8,479.4 787.9,477.9 786.1,476 784.5,473.9 783.3,471.5 782.6,469.3 782.3,467.2" fill="#2e0603" stroke="none" stroke-width="1" />
<polygon points="781.2,419.2 781.4,417.4 782.2,416.1 783.4,415.3 784.9,415 786.7,415.4 788.7,416.4 906.6,490.6 908.5,492 910.3,493.9 911.9,496.1 913.1,498.4 913.8,500.7 914.1,502.8 914.1,551.5 913.8,553.3 913.1,554.6 911.9,555.4 910.3,555.6 908.5,555.2 906.6,554.3 788.7,480.1 786.7,478.6 784.9,476.7 783.4,474.6 782.2,472.3 781.4,470 781.2,467.9" fill="#390803" stroke="none" stroke-width="1" />
<polygon points="780,419.9 780.3,418.1 781,416.8 782.2,416 783.8,415.8 785.6,416.1 787.5,417.1 905.4,491.3 907.4,492.7 909.2,494.6 910.7,496.8 911.9,499.1 912.7,501.4 912.9,503.5 912.9,552.2 912.7,554 911.9,555.3 910.7,556.1 909.2,556.3 907.4,555.9 905.4,555 787.5,480.8 785.6,479.3 783.8,477.4 782.2,475.3 781,473 780.3,470.7 780,468.6" fill="#460903" stroke="none" stroke-width="1" />
<polygon points="778.9,420.6 779.2,418.8 779.9,417.5 781.1,416.7 791.4,410.3 793,410.1 794.8,410.4 796.7,411.4 914.6,485.6 916.5,487.1 918.4,488.9 919.9,491.1 921.1,493.4 921.8,495.7 922.1,497.8 922.1,546.5 921.8,548.3 921.1,549.6 919.9,550.4 909.6,556.8 908,557 906.2,556.6 904.3,555.7 786.4,481.5 784.5,480 782.6,478.1 781.1,476 779.9,473.7 779.2,471.4 778.9,469.3" fill="none" stroke="#f02c10" stroke-width="1.2" stroke-linejoin="round"/>
<path d="M7.5,0 H125.4 A7.5,7.5 0 0 1 132.9,7.5 V56.2 A7.5,7.5 0 0 1 125.4,63.7 H75.5 L63.7,78.4 L51.9,63.7 H7.5 A7.5,7.5 0 0 1 0,56.2 V7.5 A7.5,7.5 0 0 1 7.5,0 Z" transform="matrix(1,0.629,0,1,778.9,413.1)" fill="url(#g79)" stroke="#f02c10" stroke-width="1.3" stroke-linejoin="round"/>
<text transform="matrix(1,0.629,0,1,841,482.8)" text-anchor="middle" y="5.6" font-size="16" font-family="'Liberation Sans', 'Noto Sans CJK SC', sans-serif" font-weight="700" fill="#fbe3c6" letter-spacing="-0.2" opacity="0.99">监控中心</text>
<polygon points="1555.7,499.3 1556,497.5 1556.7,496.2 1557.9,495.4 1568.2,489 1569.8,488.8 1571.6,489.2 1573.5,490.1 1688.3,562.5 1690.2,563.9 1692,565.8 1693.6,568 1694.8,570.3 1695.5,572.6 1695.8,574.7 1695.8,620.8 1695.5,622.5 1694.8,623.9 1693.6,624.7 1683.3,631.1 1681.8,631.3 1679.9,630.9 1678,630 1563.2,557.6 1561.3,556.1 1559.5,554.3 1557.9,552.1 1556.7,549.8 1556,547.5 1555.7,545.4" fill="#201002" stroke="#ff8a10" stroke-width="1.2" stroke-linejoin="round"/>
<polygon points="1565.8,493 1566.1,491.2 1566.9,489.9 1568,489.1 1569.6,488.9 1571.4,489.3 1573.3,490.2 1688.1,562.5 1690.1,564 1691.9,565.9 1693.4,568.1 1694.6,570.4 1695.4,572.7 1695.6,574.8 1695.6,620.9 1695.4,622.7 1694.6,624 1693.4,624.8 1691.9,625 1690.1,624.6 1688.1,623.6 1573.3,551.3 1571.4,549.8 1569.6,548 1568,545.8 1566.9,543.5 1566.1,541.2 1565.8,539.1" fill="#4a2203" stroke="none" stroke-width="1" />
<polygon points="1564.9,493.6 1565.1,491.8 1565.9,490.5 1567.1,489.7 1568.6,489.5 1570.4,489.9 1572.4,490.8 1687.2,563.2 1689.1,564.6 1690.9,566.5 1692.5,568.7 1693.7,571 1694.4,573.3 1694.7,575.4 1694.7,621.5 1694.4,623.3 1693.7,624.6 1692.5,625.4 1690.9,625.6 1689.1,625.2 1687.2,624.3 1572.4,551.9 1570.4,550.5 1568.6,548.6 1567.1,546.4 1565.9,544.1 1565.1,541.8 1564.9,539.7" fill="#401e03" stroke="none" stroke-width="1" />
<polygon points="1563.7,494.3 1564,492.5 1564.7,491.2 1565.9,490.4 1567.5,490.2 1569.3,490.6 1571.2,491.5 1686,563.9 1688,565.3 1689.8,567.2 1691.3,569.4 1692.5,571.7 1693.3,574 1693.5,576.1 1693.5,622.2 1693.3,624 1692.5,625.3 1691.3,626.1 1689.8,626.3 1688,625.9 1686,625 1571.2,552.6 1569.3,551.2 1567.5,549.3 1565.9,547.1 1564.7,544.8 1564,542.5 1563.7,540.4" fill="#351903" stroke="none" stroke-width="1" />
<polygon points="1562.6,495 1562.8,493.3 1563.6,491.9 1564.8,491.1 1566.3,490.9 1568.1,491.3 1570.1,492.3 1684.9,564.6 1686.8,566.1 1688.6,567.9 1690.2,570.1 1691.4,572.4 1692.1,574.7 1692.4,576.8 1692.4,622.9 1692.1,624.7 1691.4,626 1690.2,626.8 1688.6,627 1686.8,626.6 1684.9,625.7 1570.1,553.4 1568.1,551.9 1566.3,550 1564.8,547.8 1563.6,545.5 1562.8,543.2 1562.6,541.1" fill="#2b1502" stroke="none" stroke-width="1" />
<polygon points="1561.4,495.7 1561.7,494 1562.4,492.6 1563.6,491.8 1565.2,491.6 1567,492 1568.9,493 1683.7,565.3 1685.7,566.8 1687.5,568.7 1689,570.8 1690.2,573.1 1691,575.4 1691.2,577.5 1691.2,623.6 1691,625.4 1690.2,626.7 1689,627.5 1687.5,627.8 1685.7,627.4 1683.7,626.4 1568.9,554.1 1567,552.6 1565.2,550.7 1563.6,548.5 1562.4,546.2 1561.7,543.9 1561.4,541.8" fill="#211002" stroke="none" stroke-width="1" />
<polygon points="1560.3,496.5 1560.5,494.7 1561.3,493.3 1562.5,492.5 1564,492.3 1565.8,492.7 1567.8,493.7 1682.6,566 1684.5,567.5 1686.3,569.4 1687.9,571.5 1689.1,573.8 1689.8,576.1 1690.1,578.2 1690.1,624.3 1689.8,626.1 1689.1,627.4 1687.9,628.2 1686.3,628.5 1684.5,628.1 1682.6,627.1 1567.8,554.8 1565.8,553.3 1564,551.4 1562.5,549.2 1561.3,546.9 1560.5,544.7 1560.3,542.6" fill="#2a1402" stroke="none" stroke-width="1" />
<polygon points="1559.1,497.2 1559.4,495.4 1560.1,494 1561.3,493.2 1562.9,493 1564.7,493.4 1566.6,494.4 1681.4,566.7 1683.4,568.2 1685.2,570.1 1686.7,572.3 1687.9,574.6 1688.7,576.8 1688.9,578.9 1688.9,625 1688.7,626.8 1687.9,628.2 1686.7,629 1685.2,629.2 1683.4,628.8 1681.4,627.8 1566.6,555.5 1564.7,554 1562.9,552.1 1561.3,550 1560.1,547.6 1559.4,545.4 1559.1,543.3" fill="#361903" stroke="none" stroke-width="1" />
<polygon points="1558,497.9 1558.2,496.1 1559,494.8 1560.2,494 1561.7,493.7 1563.5,494.1 1565.5,495.1 1680.3,567.4 1682.2,568.9 1684,570.8 1685.6,573 1686.8,575.3 1687.5,577.5 1687.8,579.7 1687.8,625.8 1687.5,627.5 1686.8,628.9 1685.6,629.7 1684,629.9 1682.2,629.5 1680.3,628.5 1565.5,556.2 1563.5,554.7 1561.7,552.8 1560.2,550.7 1559,548.4 1558.2,546.1 1558,544" fill="#431f03" stroke="none" stroke-width="1" />
<polygon points="1556.8,498.6 1557.1,496.8 1557.8,495.5 1559,494.7 1560.6,494.5 1562.4,494.8 1564.3,495.8 1679.1,568.1 1681.1,569.6 1682.9,571.5 1684.4,573.7 1685.6,576 1686.4,578.3 1686.6,580.4 1686.6,626.5 1686.4,628.2 1685.6,629.6 1684.4,630.4 1682.9,630.6 1681.1,630.2 1679.1,629.2 1564.3,556.9 1562.4,555.4 1560.6,553.5 1559,551.4 1557.8,549.1 1557.1,546.8 1556.8,544.7" fill="#522603" stroke="none" stroke-width="1" />
<polygon points="1555.7,499.3 1556,497.5 1556.7,496.2 1557.9,495.4 1568.2,489 1569.8,488.8 1571.6,489.2 1573.5,490.1 1688.3,562.5 1690.2,563.9 1692,565.8 1693.6,568 1694.8,570.3 1695.5,572.6 1695.8,574.7 1695.8,620.8 1695.5,622.5 1694.8,623.9 1693.6,624.7 1683.3,631.1 1681.8,631.3 1679.9,630.9 1678,630 1563.2,557.6 1561.3,556.1 1559.5,554.3 1557.9,552.1 1556.7,549.8 1556,547.5 1555.7,545.4" fill="none" stroke="#ff8a10" stroke-width="1.2" stroke-linejoin="round"/>
<path d="M7.5,0 H122.3 A7.5,7.5 0 0 1 129.8,7.5 V53.6 A7.5,7.5 0 0 1 122.3,61.1 H75.6 L63.8,76.5 L52,61.1 H7.5 A7.5,7.5 0 0 1 0,53.6 V7.5 A7.5,7.5 0 0 1 7.5,0 Z" transform="matrix(1,0.63,0,1,1555.7,491.8)" fill="url(#g80)" stroke="#ff8a10" stroke-width="1.3" stroke-linejoin="round"/>
<text transform="matrix(1,0.63,0,1,1619.5,561.3)" text-anchor="middle" y="5.6" font-size="16" font-family="'Liberation Sans', 'Noto Sans CJK SC', sans-serif" font-weight="700" fill="#fbe3c6" letter-spacing="-0.2" opacity="0.99">中控机房</text>
<polygon points="1129.7,642.4 1130,640.6 1130.7,639.3 1131.9,638.5 1142.2,632.1 1143.8,631.9 1145.6,632.2 1147.5,633.2 1267,708.4 1268.9,709.9 1270.8,711.8 1272.3,713.9 1273.5,716.2 1274.2,718.5 1274.5,720.6 1274.5,768.8 1274.2,770.6 1273.5,771.9 1272.3,772.7 1262,779.1 1260.5,779.3 1258.6,779 1256.7,778 1137.2,702.8 1135.3,701.3 1133.5,699.5 1131.9,697.3 1130.7,695 1130,692.7 1129.7,690.6" fill="#1e0702" stroke="#f24410" stroke-width="1.2" stroke-linejoin="round"/>
<polygon points="1139.8,636.1 1140.1,634.3 1140.9,633 1142,632.2 1143.6,632 1145.4,632.3 1147.3,633.3 1266.8,708.5 1268.8,710 1270.6,711.8 1272.1,714 1273.3,716.3 1274.1,718.6 1274.3,720.7 1274.3,768.9 1274.1,770.7 1273.3,772 1272.1,772.8 1270.6,773 1268.8,772.6 1266.8,771.7 1147.3,696.5 1145.4,695 1143.6,693.1 1142,691 1140.9,688.7 1140.1,686.4 1139.8,684.3" fill="#401003" stroke="none" stroke-width="1" />
<polygon points="1138.9,636.7 1139.1,634.9 1139.9,633.6 1141.1,632.8 1142.6,632.6 1144.4,633 1146.4,633.9 1265.9,709.1 1267.8,710.6 1269.6,712.5 1271.2,714.6 1272.4,716.9 1273.1,719.2 1273.4,721.3 1273.4,769.5 1273.1,771.3 1272.4,772.6 1271.2,773.4 1269.6,773.6 1267.8,773.3 1265.9,772.3 1146.4,697.1 1144.4,695.7 1142.6,693.8 1141.1,691.6 1139.9,689.3 1139.1,687 1138.9,684.9" fill="#380e03" stroke="none" stroke-width="1" />
<polygon points="1137.7,637.4 1138,635.6 1138.7,634.3 1139.9,633.5 1141.5,633.3 1143.3,633.7 1145.2,634.6 1264.7,709.8 1266.7,711.3 1268.5,713.2 1270,715.3 1271.2,717.6 1272,719.9 1272.2,722 1272.2,770.2 1272,772 1271.2,773.3 1270,774.1 1268.5,774.4 1266.7,774 1264.7,773 1145.2,697.8 1143.3,696.4 1141.5,694.5 1139.9,692.3 1138.7,690 1138,687.7 1137.7,685.6" fill="#2f0c03" stroke="none" stroke-width="1" />
<polygon points="1136.6,638.1 1136.8,636.4 1137.6,635 1138.8,634.2 1140.3,634 1142.1,634.4 1144.1,635.4 1263.6,710.5 1265.5,712 1267.3,713.9 1268.9,716 1270.1,718.4 1270.8,720.6 1271.1,722.7 1271.1,770.9 1270.8,772.7 1270.1,774.1 1268.9,774.9 1267.3,775.1 1265.5,774.7 1263.6,773.7 1144.1,698.6 1142.1,697.1 1140.3,695.2 1138.8,693 1137.6,690.7 1136.8,688.4 1136.6,686.3" fill="#270902" stroke="none" stroke-width="1" />
<polygon points="1135.4,638.8 1135.7,637.1 1136.4,635.7 1137.6,634.9 1139.2,634.7 1141,635.1 1142.9,636.1 1262.4,711.2 1264.4,712.7 1266.2,714.6 1267.7,716.8 1268.9,719.1 1269.7,721.3 1269.9,723.4 1269.9,771.6 1269.7,773.4 1268.9,774.8 1267.7,775.6 1266.2,775.8 1264.4,775.4 1262.4,774.4 1142.9,699.3 1141,697.8 1139.2,695.9 1137.6,693.7 1136.4,691.4 1135.7,689.1 1135.4,687" fill="#1e0702" stroke="none" stroke-width="1" />
<polygon points="1134.3,639.6 1134.5,637.8 1135.3,636.4 1136.5,635.6 1138,635.4 1139.8,635.8 1141.8,636.8 1261.3,711.9 1263.2,713.4 1265,715.3 1266.6,717.5 1267.8,719.8 1268.5,722.1 1268.8,724.2 1268.8,772.4 1268.5,774.1 1267.8,775.5 1266.6,776.3 1265,776.5 1263.2,776.1 1261.3,775.1 1141.8,700 1139.8,698.5 1138,696.6 1136.5,694.4 1135.3,692.1 1134.5,689.9 1134.3,687.8" fill="#270902" stroke="none" stroke-width="1" />
<polygon points="1133.1,640.3 1133.4,638.5 1134.1,637.1 1135.3,636.3 1136.9,636.1 1138.7,636.5 1140.6,637.5 1260.1,712.6 1262.1,714.1 1263.9,716 1265.4,718.2 1266.6,720.5 1267.4,722.8 1267.6,724.9 1267.6,773.1 1267.4,774.8 1266.6,776.2 1265.4,777 1263.9,777.2 1262.1,776.8 1260.1,775.8 1140.6,700.7 1138.7,699.2 1136.9,697.3 1135.3,695.2 1134.1,692.8 1133.4,690.6 1133.1,688.5" fill="#300b03" stroke="none" stroke-width="1" />
<polygon points="1132,641 1132.2,639.2 1133,637.9 1134.2,637.1 1135.7,636.8 1137.5,637.2 1139.5,638.2 1259,713.4 1260.9,714.8 1262.7,716.7 1264.3,718.9 1265.5,721.2 1266.2,723.5 1266.5,725.6 1266.5,773.8 1266.2,775.6 1265.5,776.9 1264.3,777.7 1262.7,777.9 1260.9,777.5 1259,776.6 1139.5,701.4 1137.5,699.9 1135.7,698 1134.2,695.9 1133,693.6 1132.2,691.3 1132,689.2" fill="#3b0e03" stroke="none" stroke-width="1" />
<polygon points="1130.8,641.7 1131.1,639.9 1131.8,638.6 1133,637.8 1134.6,637.6 1136.4,637.9 1138.3,638.9 1257.8,714.1 1259.8,715.5 1261.6,717.4 1263.1,719.6 1264.3,721.9 1265.1,724.2 1265.3,726.3 1265.3,774.5 1265.1,776.3 1264.3,777.6 1263.1,778.4 1261.6,778.6 1259.8,778.2 1257.8,777.3 1138.3,702.1 1136.4,700.6 1134.6,698.7 1133,696.6 1131.8,694.3 1131.1,692 1130.8,689.9" fill="#481103" stroke="none" stroke-width="1" />
<polygon points="1129.7,642.4 1130,640.6 1130.7,639.3 1131.9,638.5 1142.2,632.1 1143.8,631.9 1145.6,632.2 1147.5,633.2 1267,708.4 1268.9,709.9 1270.8,711.8 1272.3,713.9 1273.5,716.2 1274.2,718.5 1274.5,720.6 1274.5,768.8 1274.2,770.6 1273.5,771.9 1272.3,772.7 1262,779.1 1260.5,779.3 1258.6,779 1256.7,778 1137.2,702.8 1135.3,701.3 1133.5,699.5 1131.9,697.3 1130.7,695 1130,692.7 1129.7,690.6" fill="none" stroke="#f24410" stroke-width="1.2" stroke-linejoin="round"/>
<path d="M7.5,0 H127 A7.5,7.5 0 0 1 134.5,7.5 V55.7 A7.5,7.5 0 0 1 127,63.2 H81 L69.7,77.6 L57.4,63.2 H7.5 A7.5,7.5 0 0 1 0,55.7 V7.5 A7.5,7.5 0 0 1 7.5,0 Z" transform="matrix(1,0.629,0,1,1129.7,634.9)" fill="url(#g81)" stroke="#f24410" stroke-width="1.3" stroke-linejoin="round"/>
<text transform="matrix(1,0.629,0,1,1194.2,706.8)" text-anchor="middle" y="5.6" font-size="16" font-family="'Liberation Sans', 'Noto Sans CJK SC', sans-serif" font-weight="700" fill="#fbe3c6" letter-spacing="-0.2" opacity="0.99">指挥中心</text>
<polygon points="678.6,722.8 678.9,721 679.6,719.7 680.8,718.9 691.1,712.5 692.6,712.2 694.5,712.6 696.4,713.5 814.6,786.2 816.5,787.6 818.4,789.5 819.9,791.7 821.1,794 821.8,796.2 822.1,798.3 822.1,843.3 821.8,845.1 821.1,846.5 819.9,847.3 809.6,853.7 808,853.9 806.2,853.5 804.3,852.6 686.1,779.9 684.2,778.5 682.4,776.6 680.8,774.5 679.6,772.2 678.9,769.9 678.6,767.8" fill="#1a0302" stroke="#e82010" stroke-width="1.2" stroke-linejoin="round"/>
<polygon points="688.7,716.5 689,714.7 689.8,713.4 690.9,712.5 692.5,712.3 694.3,712.7 696.2,713.6 814.4,786.3 816.4,787.8 818.2,789.6 819.7,791.8 820.9,794 821.7,796.3 821.9,798.4 821.9,843.4 821.7,845.2 820.9,846.5 819.7,847.4 818.2,847.6 816.4,847.2 814.4,846.3 696.2,773.6 694.3,772.2 692.5,770.3 690.9,768.2 689.8,765.9 689,763.6 688.7,761.5" fill="#360603" stroke="none" stroke-width="1" />
<polygon points="687.8,717.1 688,715.3 688.8,714 690,713.2 691.5,712.9 693.3,713.3 695.3,714.2 813.5,786.9 815.4,788.4 817.2,790.2 818.8,792.4 820,794.7 820.7,796.9 821,799 821,844 820.7,845.8 820,847.2 818.8,848 817.2,848.2 815.4,847.9 813.5,846.9 695.3,774.2 693.3,772.8 691.5,770.9 690,768.8 688.8,766.5 688,764.2 687.8,762.1" fill="#2f0503" stroke="none" stroke-width="1" />
<polygon points="686.6,717.8 686.9,716 687.6,714.7 688.8,713.9 690.4,713.6 692.2,714 694.1,714.9 812.3,787.6 814.3,789.1 816.1,790.9 817.6,793.1 818.8,795.4 819.6,797.6 819.8,799.7 819.8,844.7 819.6,846.5 818.8,847.9 817.6,848.7 816.1,848.9 814.3,848.6 812.3,847.6 694.1,774.9 692.2,773.5 690.4,771.6 688.8,769.5 687.6,767.2 686.9,764.9 686.6,762.8" fill="#280503" stroke="none" stroke-width="1" />
<polygon points="685.5,718.5 685.7,716.7 686.5,715.4 687.7,714.6 689.2,714.3 691,714.7 693,715.6 811.2,788.3 813.1,789.8 814.9,791.6 816.5,793.8 817.7,796.1 818.4,798.4 818.7,800.5 818.7,845.5 818.4,847.2 817.7,848.6 816.5,849.4 814.9,849.6 813.1,849.3 811.2,848.3 693,775.6 691,774.2 689.2,772.3 687.7,770.2 686.5,767.9 685.7,765.6 685.5,763.5" fill="#210402" stroke="none" stroke-width="1" />
<polygon points="684.3,719.2 684.6,717.5 685.3,716.1 686.5,715.3 688.1,715.1 689.9,715.4 691.8,716.4 810,789 812,790.5 813.8,792.4 815.3,794.5 816.5,796.8 817.3,799.1 817.5,801.2 817.5,846.2 817.3,847.9 816.5,849.3 815.3,850.1 813.8,850.4 812,850 810,849 691.8,776.4 689.9,774.9 688.1,773 686.5,770.9 685.3,768.6 684.6,766.3 684.3,764.2" fill="#1a0302" stroke="none" stroke-width="1" />
<polygon points="683.2,720 683.4,718.2 684.2,716.8 685.4,716 686.9,715.8 688.7,716.1 690.7,717.1 808.9,789.8 810.8,791.2 812.6,793.1 814.2,795.2 815.4,797.5 816.1,799.8 816.4,801.9 816.4,846.9 816.1,848.7 815.4,850 814.2,850.8 812.6,851.1 810.8,850.7 808.9,849.8 690.7,777.1 688.7,775.6 686.9,773.8 685.4,771.6 684.2,769.3 683.4,767.1 683.2,765" fill="#210402" stroke="none" stroke-width="1" />
<polygon points="682,720.7 682.3,718.9 683,717.5 684.2,716.7 685.8,716.5 687.6,716.8 689.5,717.8 807.7,790.5 809.7,791.9 811.5,793.8 813,795.9 814.2,798.2 815,800.5 815.2,802.6 815.2,847.6 815,849.4 814.2,850.7 813,851.5 811.5,851.8 809.7,851.4 807.7,850.5 689.5,777.8 687.6,776.3 685.8,774.5 684.2,772.3 683,770 682.3,767.8 682,765.7" fill="#2a0503" stroke="none" stroke-width="1" />
<polygon points="680.9,721.4 681.1,719.6 681.9,718.2 683.1,717.4 684.6,717.2 686.4,717.6 688.4,718.5 806.6,791.2 808.5,792.6 810.3,794.5 811.9,796.6 813.1,798.9 813.8,801.2 814.1,803.3 814.1,848.3 813.8,850.1 813.1,851.4 811.9,852.2 810.3,852.5 808.5,852.1 806.6,851.2 688.4,778.5 686.4,777 684.6,775.2 683.1,773 681.9,770.7 681.1,768.5 680.9,766.4" fill="#330603" stroke="none" stroke-width="1" />
<polygon points="679.7,722.1 680,720.3 680.7,719 681.9,718.1 683.5,717.9 685.3,718.3 687.2,719.2 805.4,791.9 807.4,793.3 809.2,795.2 810.7,797.4 811.9,799.6 812.7,801.9 812.9,804 812.9,849 812.7,850.8 811.9,852.1 810.7,853 809.2,853.2 807.4,852.8 805.4,851.9 687.2,779.2 685.3,777.8 683.5,775.9 681.9,773.7 680.7,771.5 680,769.2 679.7,767.1" fill="#3e0803" stroke="none" stroke-width="1" />
<polygon points="678.6,722.8 678.9,721 679.6,719.7 680.8,718.9 691.1,712.5 692.6,712.2 694.5,712.6 696.4,713.5 814.6,786.2 816.5,787.6 818.4,789.5 819.9,791.7 821.1,794 821.8,796.2 822.1,798.3 822.1,843.3 821.8,845.1 821.1,846.5 819.9,847.3 809.6,853.7 808,853.9 806.2,853.5 804.3,852.6 686.1,779.9 684.2,778.5 682.4,776.6 680.8,774.5 679.6,772.2 678.9,769.9 678.6,767.8" fill="none" stroke="#e82010" stroke-width="1.2" stroke-linejoin="round"/>
<path d="M7.5,0 H125.7 A7.5,7.5 0 0 1 133.2,7.5 V52.5 A7.5,7.5 0 0 1 125.7,60 H75 L63.2,75 L52.2,60 H7.5 A7.5,7.5 0 0 1 0,52.5 V7.5 A7.5,7.5 0 0 1 7.5,0 Z" transform="matrix(1,0.615,0,1,678.6,715.3)" fill="url(#g82)" stroke="#e82010" stroke-width="1.3" stroke-linejoin="round"/>
<text transform="matrix(1,0.615,0,1,743.4,783.6)" text-anchor="middle" y="5.6" font-size="16" font-family="'Liberation Sans', 'Noto Sans CJK SC', sans-serif" font-weight="700" fill="#fbe3c6" letter-spacing="-0.2" opacity="0.99">信息平台</text>
<text y="337.2" font-size="74.4" font-family="'Liberation Sans', 'Noto Sans CJK SC', sans-serif" font-weight="700" fill="#cbcaca" stroke="#cbcaca" stroke-width="1.7" stroke-linejoin="round"><tspan x="204" textLength="219.5" lengthAdjust="spacingAndGlyphs">SCENE</tspan> <tspan x="450.2" textLength="284" lengthAdjust="spacingAndGlyphs">DISPLAY</tspan></text>
<rect x="214" y="376" width="511" height="9" fill="url(#g83)"/>
<text y="450.9" font-size="38.8" font-family="'Liberation Sans', 'Noto Sans CJK SC', sans-serif" font-weight="700" fill="#cbcaca" stroke="#cbcaca" stroke-width="0.9" stroke-linejoin="round"><tspan x="210.3" textLength="133.2" lengthAdjust="spacingAndGlyphs">ACTUAL</tspan> <tspan x="357.4" textLength="207.6" lengthAdjust="spacingAndGlyphs">OPERATION</tspan> <tspan x="574.9" textLength="156.4" lengthAdjust="spacingAndGlyphs">LINKAGE</tspan></text>
</svg>
</body></html>
